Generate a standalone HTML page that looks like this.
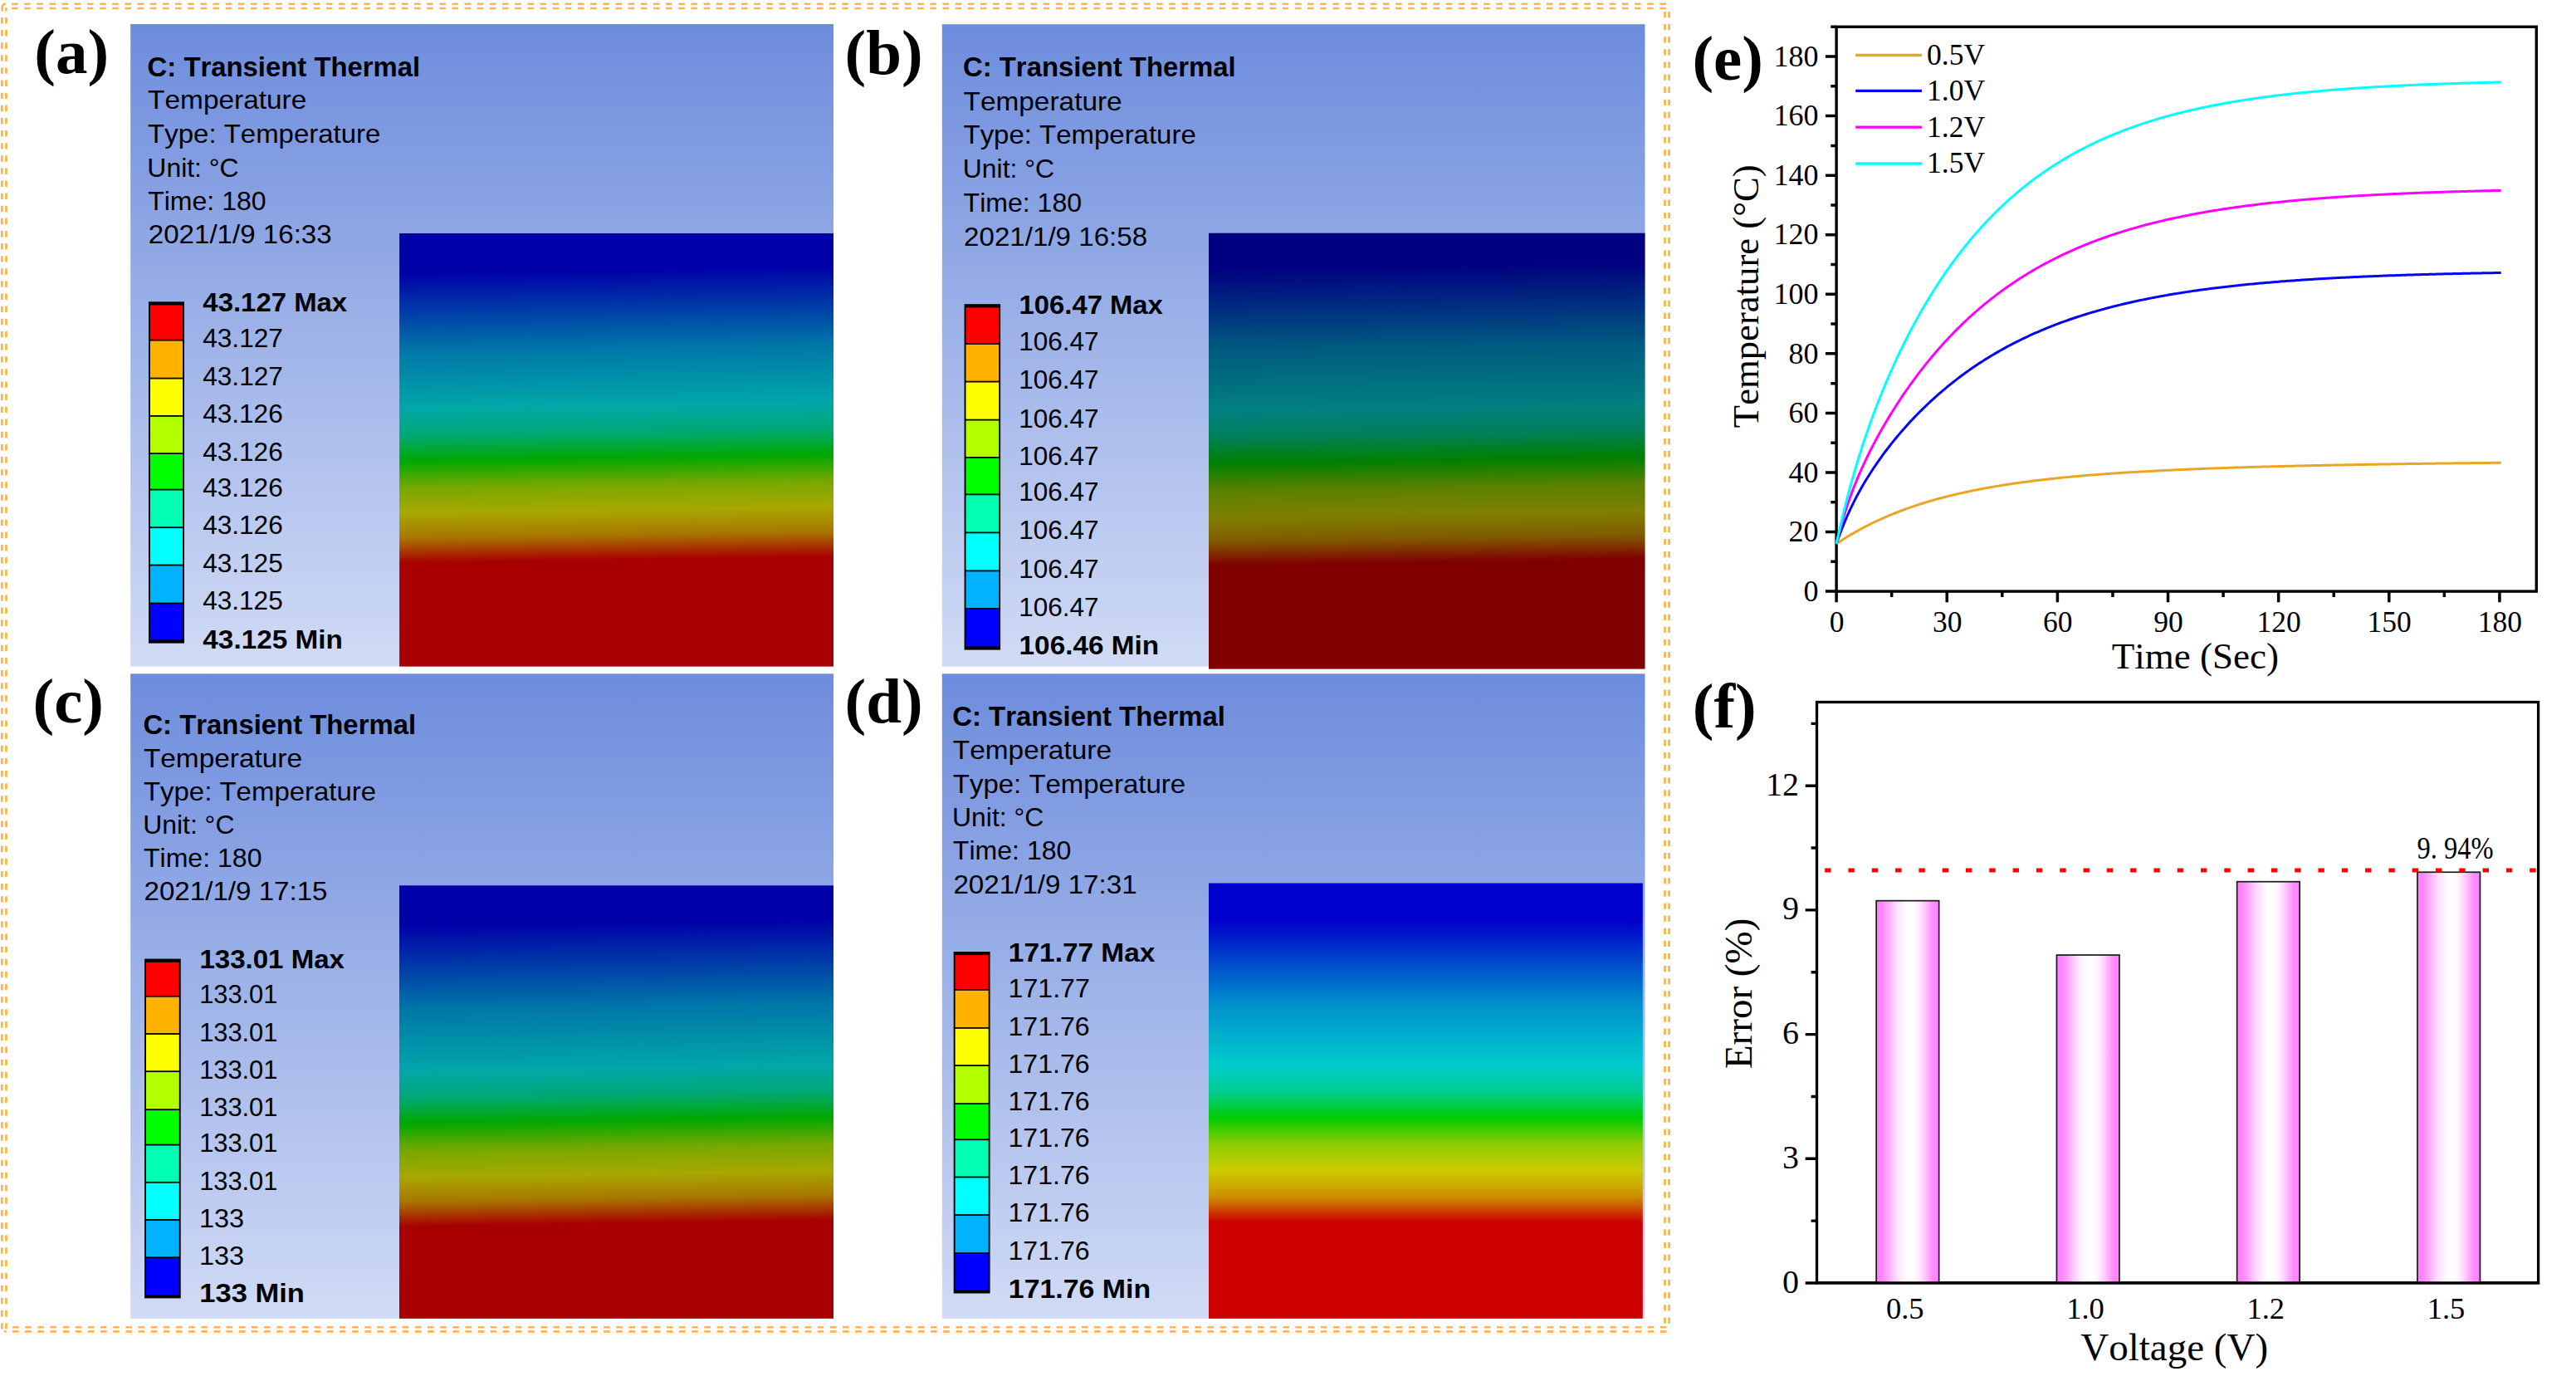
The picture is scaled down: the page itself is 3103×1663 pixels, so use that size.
<!DOCTYPE html><html><head><meta charset="utf-8"><title>figure</title>
<style>html,body{margin:0;padding:0;background:#fff}body{width:3103px;height:1663px;overflow:hidden;font-family:"Liberation Sans",sans-serif}svg{display:block}text{fill:#000;font-kerning:none}</style></head><body>
<svg width="3103" height="1663" viewBox="0 0 3103 1663">
<defs>
<linearGradient id="bg" x1="0" y1="0" x2="0" y2="1"><stop offset="0" stop-color="#6d8cdc"/><stop offset="1" stop-color="#d1dbf5"/></linearGradient>
<linearGradient id="bar" x1="0" y1="0" x2="1" y2="0"><stop offset="0" stop-color="#ff80ff"/><stop offset="0.07" stop-color="#ff82ff"/><stop offset="0.18" stop-color="#ffa4ff"/><stop offset="0.26" stop-color="#ffc6ff"/><stop offset="0.34" stop-color="#ffe2ff"/><stop offset="0.42" stop-color="#fff3ff"/><stop offset="0.5" stop-color="#ffffff"/><stop offset="0.57" stop-color="#ffffff"/><stop offset="0.66" stop-color="#fff0ff"/><stop offset="0.74" stop-color="#ffd6ff"/><stop offset="0.82" stop-color="#ffb2ff"/><stop offset="0.9" stop-color="#ff8aff"/><stop offset="1" stop-color="#ff80ff"/></linearGradient>
<linearGradient id="cta" x1="0.5" y1="0" x2="0.515" y2="1"><stop offset="0.0000" stop-color="#0000a8"/><stop offset="0.0824" stop-color="#0000a8"/><stop offset="0.2627" stop-color="#0076a8"/><stop offset="0.3988" stop-color="#00a8a8"/><stop offset="0.4588" stop-color="#00a876"/><stop offset="0.5188" stop-color="#00a800"/><stop offset="0.5786" stop-color="#76a800"/><stop offset="0.6384" stop-color="#a8a800"/><stop offset="0.6959" stop-color="#a87600"/><stop offset="0.7535" stop-color="#a80000"/><stop offset="1.0000" stop-color="#a80000"/></linearGradient>
<linearGradient id="ctb" x1="0.5" y1="0" x2="0.515" y2="1"><stop offset="0.0000" stop-color="#000080"/><stop offset="0.0730" stop-color="#000080"/><stop offset="0.2592" stop-color="#005a80"/><stop offset="0.3997" stop-color="#008080"/><stop offset="0.4602" stop-color="#00805a"/><stop offset="0.5207" stop-color="#008000"/><stop offset="0.5826" stop-color="#5a8000"/><stop offset="0.6445" stop-color="#808000"/><stop offset="0.6998" stop-color="#805a00"/><stop offset="0.7550" stop-color="#800000"/><stop offset="1.0000" stop-color="#800000"/></linearGradient>
<linearGradient id="ctc" x1="0.5" y1="0" x2="0.515" y2="1"><stop offset="0.0000" stop-color="#0000a8"/><stop offset="0.0838" stop-color="#0000a8"/><stop offset="0.2776" stop-color="#0076a8"/><stop offset="0.4238" stop-color="#00a8a8"/><stop offset="0.4829" stop-color="#00a876"/><stop offset="0.5421" stop-color="#00a800"/><stop offset="0.6040" stop-color="#76a800"/><stop offset="0.6660" stop-color="#a8a800"/><stop offset="0.7229" stop-color="#a87600"/><stop offset="0.7799" stop-color="#a80000"/><stop offset="1.0000" stop-color="#a80000"/></linearGradient>
<linearGradient id="ctd" x1="0.5" y1="0" x2="0.5" y2="1"><stop offset="0.0000" stop-color="#0000cc"/><stop offset="0.0849" stop-color="#0000cc"/><stop offset="0.2757" stop-color="#008fcc"/><stop offset="0.4196" stop-color="#00cccc"/><stop offset="0.4797" stop-color="#00cc8f"/><stop offset="0.5398" stop-color="#00cc00"/><stop offset="0.5998" stop-color="#8fcc00"/><stop offset="0.6599" stop-color="#cccc00"/><stop offset="0.7195" stop-color="#cc8f00"/><stop offset="0.7791" stop-color="#cc0000"/><stop offset="1.0000" stop-color="#cc0000"/></linearGradient>
</defs>
<path d="M14 4.8h7.6M29.16 4.8h7.6M44.31 4.8h7.6M59.46 4.8h7.6M74.62 4.8h7.6M89.77 4.8h7.6M104.93 4.8h7.6M120.08 4.8h7.6M135.24 4.8h7.6M150.39 4.8h7.6M165.55 4.8h7.6M180.7 4.8h7.6M195.86 4.8h7.6M211.01 4.8h7.6M226.17 4.8h7.6M241.32 4.8h7.6M256.48 4.8h7.6M271.63 4.8h7.6M286.79 4.8h7.6M301.94 4.8h7.6M317.1 4.8h7.6M332.25 4.8h7.6M347.41 4.8h7.6M362.56 4.8h7.6M377.72 4.8h7.6M392.88 4.8h7.6M408.03 4.8h7.6M423.19 4.8h7.6M438.34 4.8h7.6M453.5 4.8h7.6M468.65 4.8h7.6M483.81 4.8h7.6M498.96 4.8h7.6M514.12 4.8h7.6M529.27 4.8h7.6M544.42 4.8h7.6M559.58 4.8h7.6M574.74 4.8h7.6M589.89 4.8h7.6M605.04 4.8h7.6M620.2 4.8h7.6M635.36 4.8h7.6M650.51 4.8h7.6M665.66 4.8h7.6M680.82 4.8h7.6M695.98 4.8h7.6M711.13 4.8h7.6M726.28 4.8h7.6M741.44 4.8h7.6M756.59 4.8h7.6M771.75 4.8h7.6M786.9 4.8h7.6M802.06 4.8h7.6M817.21 4.8h7.6M832.37 4.8h7.6M847.52 4.8h7.6M862.68 4.8h7.6M877.83 4.8h7.6M892.99 4.8h7.6M908.14 4.8h7.6M923.3 4.8h7.6M938.45 4.8h7.6M953.61 4.8h7.6M968.76 4.8h7.6M983.92 4.8h7.6M999.07 4.8h7.6M1014.23 4.8h7.6M1029.38 4.8h7.6M1044.54 4.8h7.6M1059.69 4.8h7.6M1074.85 4.8h7.6M1090 4.8h7.6M1105.16 4.8h7.6M1120.32 4.8h7.6M1135.47 4.8h7.6M1150.62 4.8h7.6M1165.78 4.8h7.6M1180.93 4.8h7.6M1196.09 4.8h7.6M1211.24 4.8h7.6M1226.4 4.8h7.6M1241.55 4.8h7.6M1256.71 4.8h7.6M1271.87 4.8h7.6M1287.02 4.8h7.6M1302.17 4.8h7.6M1317.33 4.8h7.6M1332.48 4.8h7.6M1347.64 4.8h7.6M1362.79 4.8h7.6M1377.95 4.8h7.6M1393.11 4.8h7.6M1408.26 4.8h7.6M1423.41 4.8h7.6M1438.57 4.8h7.6M1453.72 4.8h7.6M1468.88 4.8h7.6M1484.03 4.8h7.6M1499.19 4.8h7.6M1514.35 4.8h7.6M1529.5 4.8h7.6M1544.65 4.8h7.6M1559.81 4.8h7.6M1574.96 4.8h7.6M1590.12 4.8h7.6M1605.27 4.8h7.6M1620.43 4.8h7.6M1635.59 4.8h7.6M1650.74 4.8h7.6M1665.89 4.8h7.6M1681.05 4.8h7.6M1696.2 4.8h7.6M1711.36 4.8h7.6M1726.51 4.8h7.6M1741.67 4.8h7.6M1756.82 4.8h7.6M1771.98 4.8h7.6M1787.13 4.8h7.6M1802.29 4.8h7.6M1817.44 4.8h7.6M1832.6 4.8h7.6M1847.75 4.8h7.6M1862.91 4.8h7.6M1878.06 4.8h7.6M1893.22 4.8h7.6M1908.38 4.8h7.6M1923.53 4.8h7.6M1938.68 4.8h7.6M1953.84 4.8h7.6M1968.99 4.8h7.6M1984.15 4.8h7.6M1999.3 4.8h7.6" stroke="#ffb54e" stroke-width="2.6" fill="none"/>
<path d="M14 10.05h7.6M29.16 10.05h7.6M44.31 10.05h7.6M59.46 10.05h7.6M74.62 10.05h7.6M89.77 10.05h7.6M104.93 10.05h7.6M120.08 10.05h7.6M135.24 10.05h7.6M150.39 10.05h7.6M165.55 10.05h7.6M180.7 10.05h7.6M195.86 10.05h7.6M211.01 10.05h7.6M226.17 10.05h7.6M241.32 10.05h7.6M256.48 10.05h7.6M271.63 10.05h7.6M286.79 10.05h7.6M301.94 10.05h7.6M317.1 10.05h7.6M332.25 10.05h7.6M347.41 10.05h7.6M362.56 10.05h7.6M377.72 10.05h7.6M392.88 10.05h7.6M408.03 10.05h7.6M423.19 10.05h7.6M438.34 10.05h7.6M453.5 10.05h7.6M468.65 10.05h7.6M483.81 10.05h7.6M498.96 10.05h7.6M514.12 10.05h7.6M529.27 10.05h7.6M544.42 10.05h7.6M559.58 10.05h7.6M574.74 10.05h7.6M589.89 10.05h7.6M605.04 10.05h7.6M620.2 10.05h7.6M635.36 10.05h7.6M650.51 10.05h7.6M665.66 10.05h7.6M680.82 10.05h7.6M695.98 10.05h7.6M711.13 10.05h7.6M726.28 10.05h7.6M741.44 10.05h7.6M756.59 10.05h7.6M771.75 10.05h7.6M786.9 10.05h7.6M802.06 10.05h7.6M817.21 10.05h7.6M832.37 10.05h7.6M847.52 10.05h7.6M862.68 10.05h7.6M877.83 10.05h7.6M892.99 10.05h7.6M908.14 10.05h7.6M923.3 10.05h7.6M938.45 10.05h7.6M953.61 10.05h7.6M968.76 10.05h7.6M983.92 10.05h7.6M999.07 10.05h7.6M1014.23 10.05h7.6M1029.38 10.05h7.6M1044.54 10.05h7.6M1059.69 10.05h7.6M1074.85 10.05h7.6M1090 10.05h7.6M1105.16 10.05h7.6M1120.32 10.05h7.6M1135.47 10.05h7.6M1150.62 10.05h7.6M1165.78 10.05h7.6M1180.93 10.05h7.6M1196.09 10.05h7.6M1211.24 10.05h7.6M1226.4 10.05h7.6M1241.55 10.05h7.6M1256.71 10.05h7.6M1271.87 10.05h7.6M1287.02 10.05h7.6M1302.17 10.05h7.6M1317.33 10.05h7.6M1332.48 10.05h7.6M1347.64 10.05h7.6M1362.79 10.05h7.6M1377.95 10.05h7.6M1393.11 10.05h7.6M1408.26 10.05h7.6M1423.41 10.05h7.6M1438.57 10.05h7.6M1453.72 10.05h7.6M1468.88 10.05h7.6M1484.03 10.05h7.6M1499.19 10.05h7.6M1514.35 10.05h7.6M1529.5 10.05h7.6M1544.65 10.05h7.6M1559.81 10.05h7.6M1574.96 10.05h7.6M1590.12 10.05h7.6M1605.27 10.05h7.6M1620.43 10.05h7.6M1635.59 10.05h7.6M1650.74 10.05h7.6M1665.89 10.05h7.6M1681.05 10.05h7.6M1696.2 10.05h7.6M1711.36 10.05h7.6M1726.51 10.05h7.6M1741.67 10.05h7.6M1756.82 10.05h7.6M1771.98 10.05h7.6M1787.13 10.05h7.6M1802.29 10.05h7.6M1817.44 10.05h7.6M1832.6 10.05h7.6M1847.75 10.05h7.6M1862.91 10.05h7.6M1878.06 10.05h7.6M1893.22 10.05h7.6M1908.38 10.05h7.6M1923.53 10.05h7.6M1938.68 10.05h7.6M1953.84 10.05h7.6M1968.99 10.05h7.6M1984.15 10.05h7.6M1999.3 10.05h7.6" stroke="#ffb54e" stroke-width="2.6" fill="none"/>
<path d="M15 1598.3h7.6M30.15 1598.3h7.6M45.3 1598.3h7.6M60.46 1598.3h7.6M75.61 1598.3h7.6M90.76 1598.3h7.6M105.91 1598.3h7.6M121.06 1598.3h7.6M136.22 1598.3h7.6M151.37 1598.3h7.6M166.52 1598.3h7.6M181.67 1598.3h7.6M196.82 1598.3h7.6M211.98 1598.3h7.6M227.13 1598.3h7.6M242.28 1598.3h7.6M257.43 1598.3h7.6M272.58 1598.3h7.6M287.74 1598.3h7.6M302.89 1598.3h7.6M318.04 1598.3h7.6M333.19 1598.3h7.6M348.34 1598.3h7.6M363.5 1598.3h7.6M378.65 1598.3h7.6M393.8 1598.3h7.6M408.95 1598.3h7.6M424.1 1598.3h7.6M439.26 1598.3h7.6M454.41 1598.3h7.6M469.56 1598.3h7.6M484.71 1598.3h7.6M499.86 1598.3h7.6M515.02 1598.3h7.6M530.17 1598.3h7.6M545.32 1598.3h7.6M560.47 1598.3h7.6M575.62 1598.3h7.6M590.78 1598.3h7.6M605.93 1598.3h7.6M621.08 1598.3h7.6M636.23 1598.3h7.6M651.38 1598.3h7.6M666.54 1598.3h7.6M681.69 1598.3h7.6M696.84 1598.3h7.6M711.99 1598.3h7.6M727.14 1598.3h7.6M742.3 1598.3h7.6M757.45 1598.3h7.6M772.6 1598.3h7.6M787.75 1598.3h7.6M802.9 1598.3h7.6M818.06 1598.3h7.6M833.21 1598.3h7.6M848.36 1598.3h7.6M863.51 1598.3h7.6M878.66 1598.3h7.6M893.82 1598.3h7.6M908.97 1598.3h7.6M924.12 1598.3h7.6M939.27 1598.3h7.6M954.42 1598.3h7.6M969.58 1598.3h7.6M984.73 1598.3h7.6M999.88 1598.3h7.6M1015.03 1598.3h7.6M1030.18 1598.3h7.6M1045.34 1598.3h7.6M1060.49 1598.3h7.6M1075.64 1598.3h7.6M1090.79 1598.3h7.6M1105.94 1598.3h7.6M1121.1 1598.3h7.6M1136.25 1598.3h7.6M1151.4 1598.3h7.6M1166.55 1598.3h7.6M1181.7 1598.3h7.6M1196.86 1598.3h7.6M1212.01 1598.3h7.6M1227.16 1598.3h7.6M1242.31 1598.3h7.6M1257.46 1598.3h7.6M1272.62 1598.3h7.6M1287.77 1598.3h7.6M1302.92 1598.3h7.6M1318.07 1598.3h7.6M1333.22 1598.3h7.6M1348.38 1598.3h7.6M1363.53 1598.3h7.6M1378.68 1598.3h7.6M1393.83 1598.3h7.6M1408.98 1598.3h7.6M1424.14 1598.3h7.6M1439.29 1598.3h7.6M1454.44 1598.3h7.6M1469.59 1598.3h7.6M1484.74 1598.3h7.6M1499.9 1598.3h7.6M1515.05 1598.3h7.6M1530.2 1598.3h7.6M1545.35 1598.3h7.6M1560.5 1598.3h7.6M1575.66 1598.3h7.6M1590.81 1598.3h7.6M1605.96 1598.3h7.6M1621.11 1598.3h7.6M1636.26 1598.3h7.6M1651.42 1598.3h7.6M1666.57 1598.3h7.6M1681.72 1598.3h7.6M1696.87 1598.3h7.6M1712.02 1598.3h7.6M1727.18 1598.3h7.6M1742.33 1598.3h7.6M1757.48 1598.3h7.6M1772.63 1598.3h7.6M1787.78 1598.3h7.6M1802.94 1598.3h7.6M1818.09 1598.3h7.6M1833.24 1598.3h7.6M1848.39 1598.3h7.6M1863.54 1598.3h7.6M1878.7 1598.3h7.6M1893.85 1598.3h7.6M1909 1598.3h7.6M1924.15 1598.3h7.6M1939.3 1598.3h7.6M1954.46 1598.3h7.6M1969.61 1598.3h7.6M1984.76 1598.3h7.6M1999.91 1598.3h7.6" stroke="#ffb54e" stroke-width="2.6" fill="none"/>
<path d="M15 1603.4h7.6M30.15 1603.4h7.6M45.3 1603.4h7.6M60.46 1603.4h7.6M75.61 1603.4h7.6M90.76 1603.4h7.6M105.91 1603.4h7.6M121.06 1603.4h7.6M136.22 1603.4h7.6M151.37 1603.4h7.6M166.52 1603.4h7.6M181.67 1603.4h7.6M196.82 1603.4h7.6M211.98 1603.4h7.6M227.13 1603.4h7.6M242.28 1603.4h7.6M257.43 1603.4h7.6M272.58 1603.4h7.6M287.74 1603.4h7.6M302.89 1603.4h7.6M318.04 1603.4h7.6M333.19 1603.4h7.6M348.34 1603.4h7.6M363.5 1603.4h7.6M378.65 1603.4h7.6M393.8 1603.4h7.6M408.95 1603.4h7.6M424.1 1603.4h7.6M439.26 1603.4h7.6M454.41 1603.4h7.6M469.56 1603.4h7.6M484.71 1603.4h7.6M499.86 1603.4h7.6M515.02 1603.4h7.6M530.17 1603.4h7.6M545.32 1603.4h7.6M560.47 1603.4h7.6M575.62 1603.4h7.6M590.78 1603.4h7.6M605.93 1603.4h7.6M621.08 1603.4h7.6M636.23 1603.4h7.6M651.38 1603.4h7.6M666.54 1603.4h7.6M681.69 1603.4h7.6M696.84 1603.4h7.6M711.99 1603.4h7.6M727.14 1603.4h7.6M742.3 1603.4h7.6M757.45 1603.4h7.6M772.6 1603.4h7.6M787.75 1603.4h7.6M802.9 1603.4h7.6M818.06 1603.4h7.6M833.21 1603.4h7.6M848.36 1603.4h7.6M863.51 1603.4h7.6M878.66 1603.4h7.6M893.82 1603.4h7.6M908.97 1603.4h7.6M924.12 1603.4h7.6M939.27 1603.4h7.6M954.42 1603.4h7.6M969.58 1603.4h7.6M984.73 1603.4h7.6M999.88 1603.4h7.6M1015.03 1603.4h7.6M1030.18 1603.4h7.6M1045.34 1603.4h7.6M1060.49 1603.4h7.6M1075.64 1603.4h7.6M1090.79 1603.4h7.6M1105.94 1603.4h7.6M1121.1 1603.4h7.6M1136.25 1603.4h7.6M1151.4 1603.4h7.6M1166.55 1603.4h7.6M1181.7 1603.4h7.6M1196.86 1603.4h7.6M1212.01 1603.4h7.6M1227.16 1603.4h7.6M1242.31 1603.4h7.6M1257.46 1603.4h7.6M1272.62 1603.4h7.6M1287.77 1603.4h7.6M1302.92 1603.4h7.6M1318.07 1603.4h7.6M1333.22 1603.4h7.6M1348.38 1603.4h7.6M1363.53 1603.4h7.6M1378.68 1603.4h7.6M1393.83 1603.4h7.6M1408.98 1603.4h7.6M1424.14 1603.4h7.6M1439.29 1603.4h7.6M1454.44 1603.4h7.6M1469.59 1603.4h7.6M1484.74 1603.4h7.6M1499.9 1603.4h7.6M1515.05 1603.4h7.6M1530.2 1603.4h7.6M1545.35 1603.4h7.6M1560.5 1603.4h7.6M1575.66 1603.4h7.6M1590.81 1603.4h7.6M1605.96 1603.4h7.6M1621.11 1603.4h7.6M1636.26 1603.4h7.6M1651.42 1603.4h7.6M1666.57 1603.4h7.6M1681.72 1603.4h7.6M1696.87 1603.4h7.6M1712.02 1603.4h7.6M1727.18 1603.4h7.6M1742.33 1603.4h7.6M1757.48 1603.4h7.6M1772.63 1603.4h7.6M1787.78 1603.4h7.6M1802.94 1603.4h7.6M1818.09 1603.4h7.6M1833.24 1603.4h7.6M1848.39 1603.4h7.6M1863.54 1603.4h7.6M1878.7 1603.4h7.6M1893.85 1603.4h7.6M1909 1603.4h7.6M1924.15 1603.4h7.6M1939.3 1603.4h7.6M1954.46 1603.4h7.6M1969.61 1603.4h7.6M1984.76 1603.4h7.6M1999.91 1603.4h7.6" stroke="#ffb54e" stroke-width="2.6" fill="none"/>
<path d="M2.4 21v7.4M2.4 36.12v7.4M2.4 51.23v7.4M2.4 66.35v7.4M2.4 81.47v7.4M2.4 96.59v7.4M2.4 111.7v7.4M2.4 126.82v7.4M2.4 141.94v7.4M2.4 157.05v7.4M2.4 172.17v7.4M2.4 187.29v7.4M2.4 202.4v7.4M2.4 217.52v7.4M2.4 232.64v7.4M2.4 247.76v7.4M2.4 262.87v7.4M2.4 277.99v7.4M2.4 293.11v7.4M2.4 308.22v7.4M2.4 323.34v7.4M2.4 338.46v7.4M2.4 353.57v7.4M2.4 368.69v7.4M2.4 383.81v7.4M2.4 398.93v7.4M2.4 414.04v7.4M2.4 429.16v7.4M2.4 444.28v7.4M2.4 459.39v7.4M2.4 474.51v7.4M2.4 489.63v7.4M2.4 504.74v7.4M2.4 519.86v7.4M2.4 534.98v7.4M2.4 550.1v7.4M2.4 565.21v7.4M2.4 580.33v7.4M2.4 595.45v7.4M2.4 610.56v7.4M2.4 625.68v7.4M2.4 640.8v7.4M2.4 655.91v7.4M2.4 671.03v7.4M2.4 686.15v7.4M2.4 701.26v7.4M2.4 716.38v7.4M2.4 731.5v7.4M2.4 746.62v7.4M2.4 761.73v7.4M2.4 776.85v7.4M2.4 791.97v7.4M2.4 807.08v7.4M2.4 822.2v7.4M2.4 837.32v7.4M2.4 852.44v7.4M2.4 867.55v7.4M2.4 882.67v7.4M2.4 897.79v7.4M2.4 912.9v7.4M2.4 928.02v7.4M2.4 943.14v7.4M2.4 958.25v7.4M2.4 973.37v7.4M2.4 988.49v7.4M2.4 1003.61v7.4M2.4 1018.72v7.4M2.4 1033.84v7.4M2.4 1048.96v7.4M2.4 1064.07v7.4M2.4 1079.19v7.4M2.4 1094.31v7.4M2.4 1109.42v7.4M2.4 1124.54v7.4M2.4 1139.66v7.4M2.4 1154.78v7.4M2.4 1169.89v7.4M2.4 1185.01v7.4M2.4 1200.13v7.4M2.4 1215.24v7.4M2.4 1230.36v7.4M2.4 1245.48v7.4M2.4 1260.59v7.4M2.4 1275.71v7.4M2.4 1290.83v7.4M2.4 1305.95v7.4M2.4 1321.06v7.4M2.4 1336.18v7.4M2.4 1351.3v7.4M2.4 1366.41v7.4M2.4 1381.53v7.4M2.4 1396.65v7.4M2.4 1411.76v7.4M2.4 1426.88v7.4M2.4 1442v7.4M2.4 1457.12v7.4M2.4 1472.23v7.4M2.4 1487.35v7.4M2.4 1502.47v7.4M2.4 1517.58v7.4M2.4 1532.7v7.4M2.4 1547.82v7.4M2.4 1562.93v7.4M2.4 1578.05v7.4M2.4 1593.17v7.4" stroke="#ffb54e" stroke-width="2.8" fill="none"/>
<path d="M7.45 21v7.4M7.45 36.12v7.4M7.45 51.23v7.4M7.45 66.35v7.4M7.45 81.47v7.4M7.45 96.59v7.4M7.45 111.7v7.4M7.45 126.82v7.4M7.45 141.94v7.4M7.45 157.05v7.4M7.45 172.17v7.4M7.45 187.29v7.4M7.45 202.4v7.4M7.45 217.52v7.4M7.45 232.64v7.4M7.45 247.76v7.4M7.45 262.87v7.4M7.45 277.99v7.4M7.45 293.11v7.4M7.45 308.22v7.4M7.45 323.34v7.4M7.45 338.46v7.4M7.45 353.57v7.4M7.45 368.69v7.4M7.45 383.81v7.4M7.45 398.93v7.4M7.45 414.04v7.4M7.45 429.16v7.4M7.45 444.28v7.4M7.45 459.39v7.4M7.45 474.51v7.4M7.45 489.63v7.4M7.45 504.74v7.4M7.45 519.86v7.4M7.45 534.98v7.4M7.45 550.1v7.4M7.45 565.21v7.4M7.45 580.33v7.4M7.45 595.45v7.4M7.45 610.56v7.4M7.45 625.68v7.4M7.45 640.8v7.4M7.45 655.91v7.4M7.45 671.03v7.4M7.45 686.15v7.4M7.45 701.26v7.4M7.45 716.38v7.4M7.45 731.5v7.4M7.45 746.62v7.4M7.45 761.73v7.4M7.45 776.85v7.4M7.45 791.97v7.4M7.45 807.08v7.4M7.45 822.2v7.4M7.45 837.32v7.4M7.45 852.44v7.4M7.45 867.55v7.4M7.45 882.67v7.4M7.45 897.79v7.4M7.45 912.9v7.4M7.45 928.02v7.4M7.45 943.14v7.4M7.45 958.25v7.4M7.45 973.37v7.4M7.45 988.49v7.4M7.45 1003.61v7.4M7.45 1018.72v7.4M7.45 1033.84v7.4M7.45 1048.96v7.4M7.45 1064.07v7.4M7.45 1079.19v7.4M7.45 1094.31v7.4M7.45 1109.42v7.4M7.45 1124.54v7.4M7.45 1139.66v7.4M7.45 1154.78v7.4M7.45 1169.89v7.4M7.45 1185.01v7.4M7.45 1200.13v7.4M7.45 1215.24v7.4M7.45 1230.36v7.4M7.45 1245.48v7.4M7.45 1260.59v7.4M7.45 1275.71v7.4M7.45 1290.83v7.4M7.45 1305.95v7.4M7.45 1321.06v7.4M7.45 1336.18v7.4M7.45 1351.3v7.4M7.45 1366.41v7.4M7.45 1381.53v7.4M7.45 1396.65v7.4M7.45 1411.76v7.4M7.45 1426.88v7.4M7.45 1442v7.4M7.45 1457.12v7.4M7.45 1472.23v7.4M7.45 1487.35v7.4M7.45 1502.47v7.4M7.45 1517.58v7.4M7.45 1532.7v7.4M7.45 1547.82v7.4M7.45 1562.93v7.4M7.45 1578.05v7.4M7.45 1593.17v7.4" stroke="#ffb54e" stroke-width="2.8" fill="none"/>
<rect x="5" y="1602.1" width="2.8" height="2.6" fill="#ffb54e"/>
<path d="M2005.5 13.9v7.3M2005.5 29.02v7.3M2005.5 44.14v7.3M2005.5 59.26v7.3M2005.5 74.38v7.3M2005.5 89.5v7.3M2005.5 104.62v7.3M2005.5 119.74v7.3M2005.5 134.86v7.3M2005.5 149.98v7.3M2005.5 165.1v7.3M2005.5 180.22v7.3M2005.5 195.34v7.3M2005.5 210.46v7.3M2005.5 225.58v7.3M2005.5 240.7v7.3M2005.5 255.82v7.3M2005.5 270.94v7.3M2005.5 286.06v7.3M2005.5 301.18v7.3M2005.5 316.3v7.3M2005.5 331.42v7.3M2005.5 346.54v7.3M2005.5 361.66v7.3M2005.5 376.78v7.3M2005.5 391.9v7.3M2005.5 407.02v7.3M2005.5 422.14v7.3M2005.5 437.26v7.3M2005.5 452.38v7.3M2005.5 467.5v7.3M2005.5 482.62v7.3M2005.5 497.74v7.3M2005.5 512.86v7.3M2005.5 527.98v7.3M2005.5 543.1v7.3M2005.5 558.22v7.3M2005.5 573.34v7.3M2005.5 588.46v7.3M2005.5 603.58v7.3M2005.5 618.7v7.3M2005.5 633.82v7.3M2005.5 648.94v7.3M2005.5 664.06v7.3M2005.5 679.18v7.3M2005.5 694.3v7.3M2005.5 709.42v7.3M2005.5 724.54v7.3M2005.5 739.66v7.3M2005.5 754.78v7.3M2005.5 769.9v7.3M2005.5 785.02v7.3M2005.5 800.14v7.3M2005.5 815.26v7.3M2005.5 830.38v7.3M2005.5 845.5v7.3M2005.5 860.62v7.3M2005.5 875.74v7.3M2005.5 890.86v7.3M2005.5 905.98v7.3M2005.5 921.1v7.3M2005.5 936.22v7.3M2005.5 951.34v7.3M2005.5 966.46v7.3M2005.5 981.58v7.3M2005.5 996.7v7.3M2005.5 1011.82v7.3M2005.5 1026.94v7.3M2005.5 1042.06v7.3M2005.5 1057.18v7.3M2005.5 1072.3v7.3M2005.5 1087.42v7.3M2005.5 1102.54v7.3M2005.5 1117.66v7.3M2005.5 1132.78v7.3M2005.5 1147.9v7.3M2005.5 1163.02v7.3M2005.5 1178.14v7.3M2005.5 1193.26v7.3M2005.5 1208.38v7.3M2005.5 1223.5v7.3M2005.5 1238.62v7.3M2005.5 1253.74v7.3M2005.5 1268.86v7.3M2005.5 1283.98v7.3M2005.5 1299.1v7.3M2005.5 1314.22v7.3M2005.5 1329.34v7.3M2005.5 1344.46v7.3M2005.5 1359.58v7.3M2005.5 1374.7v7.3M2005.5 1389.82v7.3M2005.5 1404.94v7.3M2005.5 1420.06v7.3M2005.5 1435.18v7.3M2005.5 1450.3v7.3M2005.5 1465.42v7.3M2005.5 1480.54v7.3M2005.5 1495.66v7.3M2005.5 1510.78v7.3M2005.5 1525.9v7.3M2005.5 1541.02v7.3M2005.5 1556.14v7.3M2005.5 1571.26v7.3M2005.5 1586.38v7.3" stroke="#ffb54e" stroke-width="2.8" fill="none"/>
<path d="M2010.6 13.9v7.3M2010.6 29.02v7.3M2010.6 44.14v7.3M2010.6 59.26v7.3M2010.6 74.38v7.3M2010.6 89.5v7.3M2010.6 104.62v7.3M2010.6 119.74v7.3M2010.6 134.86v7.3M2010.6 149.98v7.3M2010.6 165.1v7.3M2010.6 180.22v7.3M2010.6 195.34v7.3M2010.6 210.46v7.3M2010.6 225.58v7.3M2010.6 240.7v7.3M2010.6 255.82v7.3M2010.6 270.94v7.3M2010.6 286.06v7.3M2010.6 301.18v7.3M2010.6 316.3v7.3M2010.6 331.42v7.3M2010.6 346.54v7.3M2010.6 361.66v7.3M2010.6 376.78v7.3M2010.6 391.9v7.3M2010.6 407.02v7.3M2010.6 422.14v7.3M2010.6 437.26v7.3M2010.6 452.38v7.3M2010.6 467.5v7.3M2010.6 482.62v7.3M2010.6 497.74v7.3M2010.6 512.86v7.3M2010.6 527.98v7.3M2010.6 543.1v7.3M2010.6 558.22v7.3M2010.6 573.34v7.3M2010.6 588.46v7.3M2010.6 603.58v7.3M2010.6 618.7v7.3M2010.6 633.82v7.3M2010.6 648.94v7.3M2010.6 664.06v7.3M2010.6 679.18v7.3M2010.6 694.3v7.3M2010.6 709.42v7.3M2010.6 724.54v7.3M2010.6 739.66v7.3M2010.6 754.78v7.3M2010.6 769.9v7.3M2010.6 785.02v7.3M2010.6 800.14v7.3M2010.6 815.26v7.3M2010.6 830.38v7.3M2010.6 845.5v7.3M2010.6 860.62v7.3M2010.6 875.74v7.3M2010.6 890.86v7.3M2010.6 905.98v7.3M2010.6 921.1v7.3M2010.6 936.22v7.3M2010.6 951.34v7.3M2010.6 966.46v7.3M2010.6 981.58v7.3M2010.6 996.7v7.3M2010.6 1011.82v7.3M2010.6 1026.94v7.3M2010.6 1042.06v7.3M2010.6 1057.18v7.3M2010.6 1072.3v7.3M2010.6 1087.42v7.3M2010.6 1102.54v7.3M2010.6 1117.66v7.3M2010.6 1132.78v7.3M2010.6 1147.9v7.3M2010.6 1163.02v7.3M2010.6 1178.14v7.3M2010.6 1193.26v7.3M2010.6 1208.38v7.3M2010.6 1223.5v7.3M2010.6 1238.62v7.3M2010.6 1253.74v7.3M2010.6 1268.86v7.3M2010.6 1283.98v7.3M2010.6 1299.1v7.3M2010.6 1314.22v7.3M2010.6 1329.34v7.3M2010.6 1344.46v7.3M2010.6 1359.58v7.3M2010.6 1374.7v7.3M2010.6 1389.82v7.3M2010.6 1404.94v7.3M2010.6 1420.06v7.3M2010.6 1435.18v7.3M2010.6 1450.3v7.3M2010.6 1465.42v7.3M2010.6 1480.54v7.3M2010.6 1495.66v7.3M2010.6 1510.78v7.3M2010.6 1525.9v7.3M2010.6 1541.02v7.3M2010.6 1556.14v7.3M2010.6 1571.26v7.3M2010.6 1586.38v7.3" stroke="#ffb54e" stroke-width="2.8" fill="none"/>
<path d="M2.6 13.5 V9 Q2.6 4.8 7 4.8 M7.3 13.5 V11 Q7.3 10 8.5 10" stroke="#ffb54e" stroke-width="2.6" fill="none"/>
<rect x="157.2" y="29" width="846.8" height="773.5" fill="url(#bg)"/>
<rect x="481.1" y="281" width="522.9" height="521.6" fill="url(#cta)"/>
<text x="177.59" y="91.5" font-family="Liberation Sans" font-size="33" font-weight="bold" textLength="328.68" lengthAdjust="spacingAndGlyphs">C: Transient Thermal</text>
<text x="178.12" y="131" font-family="Liberation Sans" font-size="31.5" textLength="191.16" lengthAdjust="spacingAndGlyphs">Temperature</text>
<text x="178.13" y="172.3" font-family="Liberation Sans" font-size="31.5" textLength="280.2" lengthAdjust="spacingAndGlyphs">Type: Temperature</text>
<text x="177.35" y="212.5" font-family="Liberation Sans" font-size="31.5" textLength="110.3" lengthAdjust="spacingAndGlyphs">Unit: °C</text>
<text x="178.15" y="252.6" font-family="Liberation Sans" font-size="31.5" textLength="142.52" lengthAdjust="spacingAndGlyphs">Time: 180</text>
<text x="178.74" y="293.2" font-family="Liberation Sans" font-size="31.5" textLength="220.97" lengthAdjust="spacingAndGlyphs">2021/1/9 16:33</text>
<rect x="179" y="363.3" width="43" height="411.3" fill="#000"/>
<rect x="180.9" y="367.5" width="39.2" height="41.3" fill="#ff0000"/>
<rect x="180.9" y="410.6" width="39.2" height="44.1" fill="#ffb200"/>
<rect x="180.9" y="456.5" width="39.2" height="43.5" fill="#ffff00"/>
<rect x="180.9" y="501.8" width="39.2" height="43.4" fill="#b2ff00"/>
<rect x="180.9" y="547" width="39.2" height="41.7" fill="#00ff00"/>
<rect x="180.9" y="590.5" width="39.2" height="43.8" fill="#00ffb2"/>
<rect x="180.9" y="636.1" width="39.2" height="43.5" fill="#00ffff"/>
<rect x="180.9" y="681.4" width="39.2" height="44.2" fill="#00b2ff"/>
<rect x="180.9" y="727.4" width="39.2" height="43" fill="#0000ff"/>
<text x="244.35" y="375.3" font-family="Liberation Sans" font-size="32" font-weight="bold" textLength="173.82" lengthAdjust="spacingAndGlyphs">43.127 Max</text>
<text x="244.16" y="418" font-family="Liberation Sans" font-size="31.5" textLength="96.77" lengthAdjust="spacingAndGlyphs">43.127</text>
<text x="244.16" y="464" font-family="Liberation Sans" font-size="31.5" textLength="96.77" lengthAdjust="spacingAndGlyphs">43.127</text>
<text x="244.16" y="509.2" font-family="Liberation Sans" font-size="31.5" textLength="96.56" lengthAdjust="spacingAndGlyphs">43.126</text>
<text x="244.16" y="554.5" font-family="Liberation Sans" font-size="31.5" textLength="96.56" lengthAdjust="spacingAndGlyphs">43.126</text>
<text x="244.16" y="597.9" font-family="Liberation Sans" font-size="31.5" textLength="96.56" lengthAdjust="spacingAndGlyphs">43.126</text>
<text x="244.16" y="643.2" font-family="Liberation Sans" font-size="31.5" textLength="96.56" lengthAdjust="spacingAndGlyphs">43.126</text>
<text x="244.16" y="689.2" font-family="Liberation Sans" font-size="31.5" textLength="96.56" lengthAdjust="spacingAndGlyphs">43.125</text>
<text x="244.16" y="734.4" font-family="Liberation Sans" font-size="31.5" textLength="96.56" lengthAdjust="spacingAndGlyphs">43.125</text>
<text x="244.35" y="780.8" font-family="Liberation Sans" font-size="32" font-weight="bold" textLength="168.4" lengthAdjust="spacingAndGlyphs">43.125 Min</text>
<rect x="1134.8" y="29.2" width="846.7" height="773.5" fill="url(#bg)"/>
<rect x="1456" y="280.7" width="525.5" height="524.9" fill="url(#ctb)"/>
<text x="1159.99" y="91.5" font-family="Liberation Sans" font-size="33" font-weight="bold" textLength="328.68" lengthAdjust="spacingAndGlyphs">C: Transient Thermal</text>
<text x="1160.52" y="132.6" font-family="Liberation Sans" font-size="31.5" textLength="191.16" lengthAdjust="spacingAndGlyphs">Temperature</text>
<text x="1160.53" y="173.3" font-family="Liberation Sans" font-size="31.5" textLength="280.2" lengthAdjust="spacingAndGlyphs">Type: Temperature</text>
<text x="1159.75" y="213.9" font-family="Liberation Sans" font-size="31.5" textLength="110.3" lengthAdjust="spacingAndGlyphs">Unit: °C</text>
<text x="1160.55" y="255.3" font-family="Liberation Sans" font-size="31.5" textLength="142.52" lengthAdjust="spacingAndGlyphs">Time: 180</text>
<text x="1161.14" y="296.4" font-family="Liberation Sans" font-size="31.5" textLength="220.97" lengthAdjust="spacingAndGlyphs">2021/1/9 16:58</text>
<rect x="1161.6" y="366.2" width="43.5" height="416.4" fill="#000"/>
<rect x="1163.5" y="370.4" width="39.7" height="42.7" fill="#ff0000"/>
<rect x="1163.5" y="414.9" width="39.7" height="43.8" fill="#ffb200"/>
<rect x="1163.5" y="460.5" width="39.7" height="44.2" fill="#ffff00"/>
<rect x="1163.5" y="506.5" width="39.7" height="43.5" fill="#b2ff00"/>
<rect x="1163.5" y="551.8" width="39.7" height="42.7" fill="#00ff00"/>
<rect x="1163.5" y="596.3" width="39.7" height="44.2" fill="#00ffb2"/>
<rect x="1163.5" y="642.3" width="39.7" height="44.2" fill="#00ffff"/>
<rect x="1163.5" y="688.3" width="39.7" height="43.8" fill="#00b2ff"/>
<rect x="1163.5" y="733.9" width="39.7" height="44.5" fill="#0000ff"/>
<text x="1227.62" y="378.2" font-family="Liberation Sans" font-size="32" font-weight="bold" textLength="173.25" lengthAdjust="spacingAndGlyphs">106.47 Max</text>
<text x="1227.29" y="422.3" font-family="Liberation Sans" font-size="31.5" textLength="96.24" lengthAdjust="spacingAndGlyphs">106.47</text>
<text x="1227.29" y="468.3" font-family="Liberation Sans" font-size="31.5" textLength="96.24" lengthAdjust="spacingAndGlyphs">106.47</text>
<text x="1227.29" y="514.6" font-family="Liberation Sans" font-size="31.5" textLength="96.24" lengthAdjust="spacingAndGlyphs">106.47</text>
<text x="1227.29" y="559.9" font-family="Liberation Sans" font-size="31.5" textLength="96.24" lengthAdjust="spacingAndGlyphs">106.47</text>
<text x="1227.29" y="603.4" font-family="Liberation Sans" font-size="31.5" textLength="96.24" lengthAdjust="spacingAndGlyphs">106.47</text>
<text x="1227.29" y="649.3" font-family="Liberation Sans" font-size="31.5" textLength="96.24" lengthAdjust="spacingAndGlyphs">106.47</text>
<text x="1227.29" y="695.7" font-family="Liberation Sans" font-size="31.5" textLength="96.24" lengthAdjust="spacingAndGlyphs">106.47</text>
<text x="1227.29" y="741.7" font-family="Liberation Sans" font-size="31.5" textLength="96.24" lengthAdjust="spacingAndGlyphs">106.47</text>
<text x="1227.59" y="788" font-family="Liberation Sans" font-size="32" font-weight="bold" textLength="168.56" lengthAdjust="spacingAndGlyphs">106.46 Min</text>
<rect x="157.2" y="811.3" width="846.8" height="776.5" fill="url(#bg)"/>
<rect x="481" y="1066.3" width="523" height="521.5" fill="url(#ctc)"/>
<text x="172.39" y="883.6" font-family="Liberation Sans" font-size="33" font-weight="bold" textLength="328.68" lengthAdjust="spacingAndGlyphs">C: Transient Thermal</text>
<text x="172.92" y="923.5" font-family="Liberation Sans" font-size="31.5" textLength="191.16" lengthAdjust="spacingAndGlyphs">Temperature</text>
<text x="172.93" y="963.7" font-family="Liberation Sans" font-size="31.5" textLength="280.2" lengthAdjust="spacingAndGlyphs">Type: Temperature</text>
<text x="172.15" y="1003.8" font-family="Liberation Sans" font-size="31.5" textLength="110.3" lengthAdjust="spacingAndGlyphs">Unit: °C</text>
<text x="172.95" y="1044.2" font-family="Liberation Sans" font-size="31.5" textLength="142.52" lengthAdjust="spacingAndGlyphs">Time: 180</text>
<text x="173.54" y="1084.4" font-family="Liberation Sans" font-size="31.5" textLength="220.97" lengthAdjust="spacingAndGlyphs">2021/1/9 17:15</text>
<rect x="174.1" y="1154.6" width="43.6" height="408.8" fill="#000"/>
<rect x="176" y="1158.8" width="39.8" height="40.1" fill="#ff0000"/>
<rect x="176" y="1200.7" width="39.8" height="43.4" fill="#ffb200"/>
<rect x="176" y="1245.9" width="39.8" height="43.4" fill="#ffff00"/>
<rect x="176" y="1291.1" width="39.8" height="44.2" fill="#b2ff00"/>
<rect x="176" y="1337.1" width="39.8" height="40.6" fill="#00ff00"/>
<rect x="176" y="1379.5" width="39.8" height="43.4" fill="#00ffb2"/>
<rect x="176" y="1424.7" width="39.8" height="43.4" fill="#00ffff"/>
<rect x="176" y="1469.9" width="39.8" height="43.4" fill="#00b2ff"/>
<rect x="176" y="1515.1" width="39.8" height="44.1" fill="#0000ff"/>
<text x="240.41" y="1166" font-family="Liberation Sans" font-size="32" font-weight="bold" textLength="174.57" lengthAdjust="spacingAndGlyphs">133.01 Max</text>
<text x="240.14" y="1208.4" font-family="Liberation Sans" font-size="31.5" textLength="94.26" lengthAdjust="spacingAndGlyphs">133.01</text>
<text x="240.14" y="1253.6" font-family="Liberation Sans" font-size="31.5" textLength="94.26" lengthAdjust="spacingAndGlyphs">133.01</text>
<text x="240.14" y="1298.8" font-family="Liberation Sans" font-size="31.5" textLength="94.26" lengthAdjust="spacingAndGlyphs">133.01</text>
<text x="240.14" y="1344" font-family="Liberation Sans" font-size="31.5" textLength="94.26" lengthAdjust="spacingAndGlyphs">133.01</text>
<text x="240.14" y="1387.3" font-family="Liberation Sans" font-size="31.5" textLength="94.26" lengthAdjust="spacingAndGlyphs">133.01</text>
<text x="240.14" y="1432.5" font-family="Liberation Sans" font-size="31.5" textLength="94.26" lengthAdjust="spacingAndGlyphs">133.01</text>
<text x="240.01" y="1477.7" font-family="Liberation Sans" font-size="31.5" textLength="54.14" lengthAdjust="spacingAndGlyphs">133</text>
<text x="240.01" y="1522.9" font-family="Liberation Sans" font-size="31.5" textLength="54.14" lengthAdjust="spacingAndGlyphs">133</text>
<text x="240.32" y="1568.1" font-family="Liberation Sans" font-size="32" font-weight="bold" textLength="126.5" lengthAdjust="spacingAndGlyphs">133 Min</text>
<rect x="1134.8" y="811.3" width="846.7" height="776.5" fill="url(#bg)"/>
<rect x="1456" y="1063.5" width="522.8" height="524.3" fill="url(#ctd)"/>
<text x="1147.29" y="874" font-family="Liberation Sans" font-size="33" font-weight="bold" textLength="328.68" lengthAdjust="spacingAndGlyphs">C: Transient Thermal</text>
<text x="1147.82" y="914" font-family="Liberation Sans" font-size="31.5" textLength="191.16" lengthAdjust="spacingAndGlyphs">Temperature</text>
<text x="1147.83" y="954.6" font-family="Liberation Sans" font-size="31.5" textLength="280.2" lengthAdjust="spacingAndGlyphs">Type: Temperature</text>
<text x="1147.05" y="994.8" font-family="Liberation Sans" font-size="31.5" textLength="110.3" lengthAdjust="spacingAndGlyphs">Unit: °C</text>
<text x="1147.85" y="1035.4" font-family="Liberation Sans" font-size="31.5" textLength="142.52" lengthAdjust="spacingAndGlyphs">Time: 180</text>
<text x="1148.44" y="1076" font-family="Liberation Sans" font-size="31.5" textLength="221.19" lengthAdjust="spacingAndGlyphs">2021/1/9 17:31</text>
<rect x="1148.7" y="1146" width="43.9" height="411.5" fill="#000"/>
<rect x="1150.6" y="1150.1" width="40.1" height="40.9" fill="#ff0000"/>
<rect x="1150.6" y="1192.8" width="40.1" height="44.2" fill="#ffb200"/>
<rect x="1150.6" y="1238.8" width="40.1" height="43.4" fill="#ffff00"/>
<rect x="1150.6" y="1284" width="40.1" height="44.2" fill="#b2ff00"/>
<rect x="1150.6" y="1330" width="40.1" height="41.4" fill="#00ff00"/>
<rect x="1150.6" y="1373.2" width="40.1" height="43.4" fill="#00ffb2"/>
<rect x="1150.6" y="1418.4" width="40.1" height="43.8" fill="#00ffff"/>
<rect x="1150.6" y="1464" width="40.1" height="44.2" fill="#00b2ff"/>
<rect x="1150.6" y="1510" width="40.1" height="43.3" fill="#0000ff"/>
<text x="1214.88" y="1158.1" font-family="Liberation Sans" font-size="32" font-weight="bold" textLength="176.49" lengthAdjust="spacingAndGlyphs">171.77 Max</text>
<text x="1214.54" y="1201.4" font-family="Liberation Sans" font-size="31.5" textLength="98.33" lengthAdjust="spacingAndGlyphs">171.77</text>
<text x="1214.54" y="1247" font-family="Liberation Sans" font-size="31.5" textLength="98.1" lengthAdjust="spacingAndGlyphs">171.76</text>
<text x="1214.54" y="1292.2" font-family="Liberation Sans" font-size="31.5" textLength="98.1" lengthAdjust="spacingAndGlyphs">171.76</text>
<text x="1214.54" y="1337.4" font-family="Liberation Sans" font-size="31.5" textLength="98.1" lengthAdjust="spacingAndGlyphs">171.76</text>
<text x="1214.54" y="1380.6" font-family="Liberation Sans" font-size="31.5" textLength="98.1" lengthAdjust="spacingAndGlyphs">171.76</text>
<text x="1214.54" y="1425.8" font-family="Liberation Sans" font-size="31.5" textLength="98.1" lengthAdjust="spacingAndGlyphs">171.76</text>
<text x="1214.54" y="1471" font-family="Liberation Sans" font-size="31.5" textLength="98.1" lengthAdjust="spacingAndGlyphs">171.76</text>
<text x="1214.54" y="1517" font-family="Liberation Sans" font-size="31.5" textLength="98.1" lengthAdjust="spacingAndGlyphs">171.76</text>
<text x="1214.86" y="1563" font-family="Liberation Sans" font-size="32" font-weight="bold" textLength="171.22" lengthAdjust="spacingAndGlyphs">171.76 Min</text>
<text x="41.3" y="88.2" font-family="Liberation Serif" font-size="77" font-weight="bold">(a)</text>
<text x="1017.5" y="88.7" font-family="Liberation Serif" font-size="77" font-weight="bold">(b)</text>
<text x="39.5" y="869.6" font-family="Liberation Serif" font-size="77" font-weight="bold">(c)</text>
<text x="1017.5" y="869.5" font-family="Liberation Serif" font-size="77" font-weight="bold">(d)</text>
<text x="2038.4" y="95.8" font-family="Liberation Serif" font-size="77" font-weight="bold">(e)</text>
<text x="2038.8" y="876" font-family="Liberation Serif" font-size="77" font-weight="bold">(f)</text>
<rect x="2212.1" y="32.3" width="843.2" height="679.8" fill="none" stroke="#000" stroke-width="3.4"/>
<path d="M2212.1 712.1h-13.2M2212.1 676.32h-6.8M2212.1 640.54h-13.2M2212.1 604.76h-6.8M2212.1 568.98h-13.2M2212.1 533.2h-6.8M2212.1 497.42h-13.2M2212.1 461.64h-6.8M2212.1 425.86h-13.2M2212.1 390.08h-6.8M2212.1 354.3h-13.2M2212.1 318.52h-6.8M2212.1 282.74h-13.2M2212.1 246.96h-6.8M2212.1 211.18h-13.2M2212.1 175.4h-6.8M2212.1 139.62h-13.2M2212.1 103.84h-6.8M2212.1 68.06h-13.2M2212.1 32.28h-6.8M2212.1 712.1v13.2M2278.67 712.1v6.8M2345.24 712.1v13.2M2411.81 712.1v6.8M2478.38 712.1v13.2M2544.95 712.1v6.8M2611.52 712.1v13.2M2678.09 712.1v6.8M2744.66 712.1v13.2M2811.23 712.1v6.8M2877.8 712.1v13.2M2944.37 712.1v6.8M3010.94 712.1v13.2" stroke="#000" stroke-width="3.5" fill="none"/>
<text x="2190.6" y="723.8" font-family="Liberation Serif" font-size="36" text-anchor="end">0</text>
<text x="2190.6" y="652.24" font-family="Liberation Serif" font-size="36" text-anchor="end">20</text>
<text x="2190.6" y="580.68" font-family="Liberation Serif" font-size="36" text-anchor="end">40</text>
<text x="2190.6" y="509.12" font-family="Liberation Serif" font-size="36" text-anchor="end">60</text>
<text x="2190.6" y="437.56" font-family="Liberation Serif" font-size="36" text-anchor="end">80</text>
<text x="2190.6" y="366" font-family="Liberation Serif" font-size="36" text-anchor="end">100</text>
<text x="2190.6" y="294.44" font-family="Liberation Serif" font-size="36" text-anchor="end">120</text>
<text x="2190.6" y="222.88" font-family="Liberation Serif" font-size="36" text-anchor="end">140</text>
<text x="2190.6" y="151.32" font-family="Liberation Serif" font-size="36" text-anchor="end">160</text>
<text x="2190.6" y="79.76" font-family="Liberation Serif" font-size="36" text-anchor="end">180</text>
<text x="2212.5" y="761" font-family="Liberation Serif" font-size="35.5" text-anchor="middle">0</text>
<text x="2345.64" y="761" font-family="Liberation Serif" font-size="35.5" text-anchor="middle">30</text>
<text x="2478.78" y="761" font-family="Liberation Serif" font-size="35.5" text-anchor="middle">60</text>
<text x="2611.92" y="761" font-family="Liberation Serif" font-size="35.5" text-anchor="middle">90</text>
<text x="2745.06" y="761" font-family="Liberation Serif" font-size="35.5" text-anchor="middle">120</text>
<text x="2878.2" y="761" font-family="Liberation Serif" font-size="35.5" text-anchor="middle">150</text>
<text x="3011.34" y="761" font-family="Liberation Serif" font-size="35.5" text-anchor="middle">180</text>
<text x="2644.4" y="805.4" font-family="Liberation Serif" font-size="45" text-anchor="middle">Time (Sec)</text>
<text transform="translate(2117.5 356.7) rotate(-90)" font-family="Liberation Serif" font-size="44.7" text-anchor="middle">Temperature (°C)</text>
<path d="M2212.1 654.85 L2214.32 653.37 L2216.54 651.91 L2218.76 650.48 L2220.98 649.07 L2223.19 647.68 L2225.41 646.32 L2227.63 644.97 L2229.85 643.66 L2232.07 642.36 L2234.29 641.08 L2236.51 639.83 L2238.73 638.59 L2240.95 637.38 L2243.17 636.19 L2245.38 635.01 L2247.6 633.86 L2249.82 632.72 L2252.04 631.6 L2254.26 630.5 L2256.48 629.42 L2258.7 628.36 L2260.92 627.31 L2263.14 626.28 L2265.36 625.27 L2267.57 624.28 L2269.79 623.3 L2272.01 622.33 L2274.23 621.38 L2276.45 620.45 L2278.67 619.53 L2280.89 618.63 L2283.11 617.74 L2285.33 616.87 L2287.55 616.01 L2289.76 615.16 L2291.98 614.33 L2294.2 613.51 L2296.42 612.71 L2298.64 611.92 L2300.86 611.14 L2303.08 610.37 L2305.3 609.61 L2307.52 608.87 L2309.74 608.14 L2311.95 607.42 L2314.17 606.71 L2316.39 606.01 L2318.61 605.33 L2320.83 604.65 L2323.05 603.99 L2325.27 603.33 L2327.49 602.69 L2329.71 602.06 L2331.93 601.43 L2334.14 600.82 L2336.36 600.22 L2338.58 599.62 L2340.8 599.04 L2343.02 598.46 L2345.24 597.89 L2347.46 597.33 L2349.68 596.79 L2351.9 596.24 L2354.12 595.71 L2356.34 595.19 L2358.55 594.67 L2360.77 594.16 L2362.99 593.66 L2365.21 593.17 L2367.43 592.68 L2369.65 592.21 L2371.87 591.74 L2374.09 591.27 L2376.31 590.82 L2378.53 590.37 L2380.74 589.93 L2382.96 589.49 L2385.18 589.06 L2387.4 588.64 L2389.62 588.22 L2391.84 587.81 L2394.06 587.41 L2396.28 587.01 L2398.5 586.62 L2400.71 586.24 L2402.93 585.86 L2405.15 585.48 L2407.37 585.11 L2409.59 584.75 L2411.81 584.39 L2414.03 584.04 L2416.25 583.69 L2418.47 583.35 L2420.69 583.01 L2422.9 582.68 L2425.12 582.35 L2427.34 582.03 L2429.56 581.71 L2431.78 581.4 L2434 581.09 L2436.22 580.79 L2438.44 580.49 L2440.66 580.19 L2442.88 579.9 L2445.09 579.62 L2447.31 579.33 L2449.53 579.05 L2451.75 578.78 L2453.97 578.51 L2456.19 578.24 L2458.41 577.98 L2460.63 577.72 L2462.85 577.46 L2465.07 577.21 L2467.28 576.96 L2469.5 576.72 L2471.72 576.48 L2473.94 576.24 L2476.16 576 L2478.38 575.77 L2480.6 575.54 L2482.82 575.32 L2485.04 575.1 L2487.26 574.88 L2489.47 574.66 L2491.69 574.45 L2493.91 574.24 L2496.13 574.03 L2498.35 573.83 L2500.57 573.63 L2502.79 573.43 L2505.01 573.23 L2507.23 573.04 L2509.45 572.85 L2511.66 572.66 L2513.88 572.47 L2516.1 572.29 L2518.32 572.11 L2520.54 571.93 L2522.76 571.75 L2524.98 571.58 L2527.2 571.41 L2529.42 571.24 L2531.64 571.07 L2533.86 570.9 L2536.07 570.74 L2538.29 570.58 L2540.51 570.42 L2542.73 570.27 L2544.95 570.11 L2547.17 569.96 L2549.39 569.81 L2551.61 569.66 L2553.83 569.51 L2556.05 569.37 L2558.26 569.22 L2560.48 569.08 L2562.7 568.94 L2564.92 568.8 L2567.14 568.67 L2569.36 568.53 L2571.58 568.4 L2573.8 568.27 L2576.02 568.14 L2578.23 568.01 L2580.45 567.89 L2582.67 567.76 L2584.89 567.64 L2587.11 567.52 L2589.33 567.4 L2591.55 567.28 L2593.77 567.16 L2595.99 567.04 L2598.21 566.93 L2600.42 566.81 L2602.64 566.7 L2604.86 566.59 L2607.08 566.48 L2609.3 566.37 L2611.52 566.27 L2613.74 566.16 L2615.96 566.06 L2618.18 565.95 L2620.4 565.85 L2622.61 565.75 L2624.83 565.65 L2627.05 565.55 L2629.27 565.46 L2631.49 565.36 L2633.71 565.26 L2635.93 565.17 L2638.15 565.08 L2640.37 564.98 L2642.59 564.89 L2644.8 564.8 L2647.02 564.71 L2649.24 564.63 L2651.46 564.54 L2653.68 564.45 L2655.9 564.37 L2658.12 564.28 L2660.34 564.2 L2662.56 564.12 L2664.78 564.03 L2666.99 563.95 L2669.21 563.87 L2671.43 563.79 L2673.65 563.72 L2675.87 563.64 L2678.09 563.56 L2680.31 563.49 L2682.53 563.41 L2684.75 563.34 L2686.97 563.26 L2689.18 563.19 L2691.4 563.12 L2693.62 563.05 L2695.84 562.98 L2698.06 562.91 L2700.28 562.84 L2702.5 562.77 L2704.72 562.7 L2706.94 562.63 L2709.16 562.57 L2711.38 562.5 L2713.59 562.44 L2715.81 562.37 L2718.03 562.31 L2720.25 562.25 L2722.47 562.18 L2724.69 562.12 L2726.91 562.06 L2729.13 562 L2731.35 561.94 L2733.56 561.88 L2735.78 561.82 L2738 561.76 L2740.22 561.7 L2742.44 561.64 L2744.66 561.59 L2746.88 561.53 L2749.1 561.48 L2751.32 561.42 L2753.54 561.36 L2755.76 561.31 L2757.97 561.26 L2760.19 561.2 L2762.41 561.15 L2764.63 561.1 L2766.85 561.05 L2769.07 560.99 L2771.29 560.94 L2773.51 560.89 L2775.73 560.84 L2777.94 560.79 L2780.16 560.74 L2782.38 560.69 L2784.6 560.65 L2786.82 560.6 L2789.04 560.55 L2791.26 560.5 L2793.48 560.46 L2795.7 560.41 L2797.92 560.36 L2800.13 560.32 L2802.35 560.27 L2804.57 560.23 L2806.79 560.18 L2809.01 560.14 L2811.23 560.1 L2813.45 560.05 L2815.67 560.01 L2817.89 559.97 L2820.11 559.92 L2822.32 559.88 L2824.54 559.84 L2826.76 559.8 L2828.98 559.76 L2831.2 559.72 L2833.42 559.68 L2835.64 559.64 L2837.86 559.6 L2840.08 559.56 L2842.3 559.52 L2844.51 559.48 L2846.73 559.44 L2848.95 559.4 L2851.17 559.37 L2853.39 559.33 L2855.61 559.29 L2857.83 559.25 L2860.05 559.22 L2862.27 559.18 L2864.49 559.14 L2866.7 559.11 L2868.92 559.07 L2871.14 559.04 L2873.36 559 L2875.58 558.97 L2877.8 558.93 L2880.02 558.9 L2882.24 558.86 L2884.46 558.83 L2886.68 558.8 L2888.89 558.76 L2891.11 558.73 L2893.33 558.7 L2895.55 558.67 L2897.77 558.63 L2899.99 558.6 L2902.21 558.57 L2904.43 558.54 L2906.65 558.51 L2908.87 558.47 L2911.09 558.44 L2913.3 558.41 L2915.52 558.38 L2917.74 558.35 L2919.96 558.32 L2922.18 558.29 L2924.4 558.26 L2926.62 558.23 L2928.84 558.2 L2931.06 558.17 L2933.27 558.15 L2935.49 558.12 L2937.71 558.09 L2939.93 558.06 L2942.15 558.03 L2944.37 558 L2946.59 557.98 L2948.81 557.95 L2951.03 557.92 L2953.25 557.89 L2955.47 557.87 L2957.68 557.84 L2959.9 557.81 L2962.12 557.79 L2964.34 557.76 L2966.56 557.73 L2968.78 557.71 L2971 557.68 L2973.22 557.66 L2975.44 557.63 L2977.65 557.61 L2979.87 557.58 L2982.09 557.56 L2984.31 557.53 L2986.53 557.51 L2988.75 557.48 L2990.97 557.46 L2993.19 557.43 L2995.41 557.41 L2997.63 557.39 L2999.84 557.36 L3002.06 557.34 L3004.28 557.32 L3006.5 557.29 L3008.72 557.27 L3010.94 557.25 L3012.72 557.23" stroke="#eaa526" stroke-width="3" fill="none" stroke-linejoin="round"/>
<path d="M2212.1 654.85 L2214.32 648.49 L2216.54 642.43 L2218.76 636.66 L2220.98 631.13 L2223.19 625.83 L2225.41 620.75 L2227.63 615.85 L2229.85 611.14 L2232.07 606.59 L2234.29 602.18 L2236.51 597.92 L2238.73 593.78 L2240.95 589.77 L2243.17 585.86 L2245.38 582.06 L2247.6 578.35 L2249.82 574.73 L2252.04 571.2 L2254.26 567.74 L2256.48 564.37 L2258.7 561.06 L2260.92 557.81 L2263.14 554.63 L2265.36 551.52 L2267.57 548.45 L2269.79 545.45 L2272.01 542.49 L2274.23 539.59 L2276.45 536.74 L2278.67 533.93 L2280.89 531.17 L2283.11 528.45 L2285.33 525.77 L2287.55 523.13 L2289.76 520.54 L2291.98 517.98 L2294.2 515.46 L2296.42 512.98 L2298.64 510.53 L2300.86 508.11 L2303.08 505.73 L2305.3 503.39 L2307.52 501.08 L2309.74 498.79 L2311.95 496.54 L2314.17 494.32 L2316.39 492.14 L2318.61 489.98 L2320.83 487.85 L2323.05 485.74 L2325.27 483.67 L2327.49 481.62 L2329.71 479.6 L2331.93 477.61 L2334.14 475.65 L2336.36 473.71 L2338.58 471.79 L2340.8 469.9 L2343.02 468.04 L2345.24 466.2 L2347.46 464.38 L2349.68 462.59 L2351.9 460.82 L2354.12 459.07 L2356.34 457.35 L2358.55 455.65 L2360.77 453.97 L2362.99 452.31 L2365.21 450.68 L2367.43 449.06 L2369.65 447.47 L2371.87 445.9 L2374.09 444.34 L2376.31 442.81 L2378.53 441.3 L2380.74 439.81 L2382.96 438.33 L2385.18 436.88 L2387.4 435.44 L2389.62 434.03 L2391.84 432.63 L2394.06 431.25 L2396.28 429.88 L2398.5 428.54 L2400.71 427.21 L2402.93 425.9 L2405.15 424.61 L2407.37 423.33 L2409.59 422.07 L2411.81 420.83 L2414.03 419.6 L2416.25 418.39 L2418.47 417.19 L2420.69 416.01 L2422.9 414.84 L2425.12 413.69 L2427.34 412.55 L2429.56 411.43 L2431.78 410.33 L2434 409.23 L2436.22 408.15 L2438.44 407.09 L2440.66 406.04 L2442.88 405 L2445.09 403.98 L2447.31 402.97 L2449.53 401.97 L2451.75 400.98 L2453.97 400.01 L2456.19 399.05 L2458.41 398.11 L2460.63 397.17 L2462.85 396.25 L2465.07 395.34 L2467.28 394.44 L2469.5 393.55 L2471.72 392.67 L2473.94 391.81 L2476.16 390.96 L2478.38 390.11 L2480.6 389.28 L2482.82 388.46 L2485.04 387.65 L2487.26 386.85 L2489.47 386.06 L2491.69 385.28 L2493.91 384.51 L2496.13 383.75 L2498.35 383 L2500.57 382.26 L2502.79 381.53 L2505.01 380.81 L2507.23 380.1 L2509.45 379.4 L2511.66 378.7 L2513.88 378.02 L2516.1 377.34 L2518.32 376.67 L2520.54 376.02 L2522.76 375.37 L2524.98 374.72 L2527.2 374.09 L2529.42 373.47 L2531.64 372.85 L2533.86 372.24 L2536.07 371.64 L2538.29 371.05 L2540.51 370.46 L2542.73 369.88 L2544.95 369.31 L2547.17 368.75 L2549.39 368.19 L2551.61 367.64 L2553.83 367.1 L2556.05 366.57 L2558.26 366.04 L2560.48 365.52 L2562.7 365 L2564.92 364.49 L2567.14 363.99 L2569.36 363.5 L2571.58 363.01 L2573.8 362.53 L2576.02 362.05 L2578.23 361.58 L2580.45 361.12 L2582.67 360.66 L2584.89 360.21 L2587.11 359.76 L2589.33 359.32 L2591.55 358.89 L2593.77 358.46 L2595.99 358.04 L2598.21 357.62 L2600.42 357.21 L2602.64 356.8 L2604.86 356.4 L2607.08 356 L2609.3 355.61 L2611.52 355.22 L2613.74 354.84 L2615.96 354.46 L2618.18 354.09 L2620.4 353.72 L2622.61 353.36 L2624.83 353 L2627.05 352.65 L2629.27 352.3 L2631.49 351.96 L2633.71 351.62 L2635.93 351.28 L2638.15 350.95 L2640.37 350.63 L2642.59 350.31 L2644.8 349.99 L2647.02 349.67 L2649.24 349.36 L2651.46 349.06 L2653.68 348.75 L2655.9 348.46 L2658.12 348.16 L2660.34 347.87 L2662.56 347.59 L2664.78 347.3 L2666.99 347.02 L2669.21 346.75 L2671.43 346.47 L2673.65 346.21 L2675.87 345.94 L2678.09 345.68 L2680.31 345.42 L2682.53 345.17 L2684.75 344.91 L2686.97 344.66 L2689.18 344.42 L2691.4 344.18 L2693.62 343.94 L2695.84 343.7 L2698.06 343.47 L2700.28 343.24 L2702.5 343.01 L2704.72 342.79 L2706.94 342.57 L2709.16 342.35 L2711.38 342.13 L2713.59 341.92 L2715.81 341.71 L2718.03 341.5 L2720.25 341.3 L2722.47 341.1 L2724.69 340.9 L2726.91 340.7 L2729.13 340.51 L2731.35 340.31 L2733.56 340.13 L2735.78 339.94 L2738 339.75 L2740.22 339.57 L2742.44 339.39 L2744.66 339.22 L2746.88 339.04 L2749.1 338.87 L2751.32 338.7 L2753.54 338.53 L2755.76 338.36 L2757.97 338.2 L2760.19 338.04 L2762.41 337.88 L2764.63 337.72 L2766.85 337.56 L2769.07 337.41 L2771.29 337.26 L2773.51 337.11 L2775.73 336.96 L2777.94 336.81 L2780.16 336.67 L2782.38 336.53 L2784.6 336.39 L2786.82 336.25 L2789.04 336.11 L2791.26 335.98 L2793.48 335.84 L2795.7 335.71 L2797.92 335.58 L2800.13 335.45 L2802.35 335.33 L2804.57 335.2 L2806.79 335.08 L2809.01 334.96 L2811.23 334.84 L2813.45 334.72 L2815.67 334.6 L2817.89 334.49 L2820.11 334.37 L2822.32 334.26 L2824.54 334.15 L2826.76 334.04 L2828.98 333.93 L2831.2 333.82 L2833.42 333.72 L2835.64 333.61 L2837.86 333.51 L2840.08 333.41 L2842.3 333.31 L2844.51 333.21 L2846.73 333.11 L2848.95 333.02 L2851.17 332.92 L2853.39 332.83 L2855.61 332.73 L2857.83 332.64 L2860.05 332.55 L2862.27 332.46 L2864.49 332.38 L2866.7 332.29 L2868.92 332.2 L2871.14 332.12 L2873.36 332.04 L2875.58 331.95 L2877.8 331.87 L2880.02 331.79 L2882.24 331.71 L2884.46 331.63 L2886.68 331.56 L2888.89 331.48 L2891.11 331.41 L2893.33 331.33 L2895.55 331.26 L2897.77 331.19 L2899.99 331.11 L2902.21 331.04 L2904.43 330.97 L2906.65 330.9 L2908.87 330.84 L2911.09 330.77 L2913.3 330.7 L2915.52 330.64 L2917.74 330.57 L2919.96 330.51 L2922.18 330.45 L2924.4 330.39 L2926.62 330.32 L2928.84 330.26 L2931.06 330.2 L2933.27 330.15 L2935.49 330.09 L2937.71 330.03 L2939.93 329.97 L2942.15 329.92 L2944.37 329.86 L2946.59 329.81 L2948.81 329.76 L2951.03 329.7 L2953.25 329.65 L2955.47 329.6 L2957.68 329.55 L2959.9 329.5 L2962.12 329.45 L2964.34 329.4 L2966.56 329.35 L2968.78 329.3 L2971 329.25 L2973.22 329.21 L2975.44 329.16 L2977.65 329.12 L2979.87 329.07 L2982.09 329.03 L2984.31 328.98 L2986.53 328.94 L2988.75 328.9 L2990.97 328.86 L2993.19 328.82 L2995.41 328.77 L2997.63 328.73 L2999.84 328.69 L3002.06 328.66 L3004.28 328.62 L3006.5 328.58 L3008.72 328.54 L3010.94 328.5 L3012.72 328.47" stroke="#0404f8" stroke-width="3" fill="none" stroke-linejoin="round"/>
<path d="M2212.1 654.85 L2214.32 645.81 L2216.54 637.34 L2218.76 629.4 L2220.98 621.9 L2223.19 614.81 L2225.41 608.07 L2227.63 601.65 L2229.85 595.5 L2232.07 589.61 L2234.29 583.95 L2236.51 578.49 L2238.73 573.2 L2240.95 568.09 L2243.17 563.12 L2245.38 558.29 L2247.6 553.59 L2249.82 549 L2252.04 544.52 L2254.26 540.14 L2256.48 535.85 L2258.7 531.65 L2260.92 527.52 L2263.14 523.48 L2265.36 519.5 L2267.57 515.6 L2269.79 511.76 L2272.01 507.98 L2274.23 504.27 L2276.45 500.61 L2278.67 497 L2280.89 493.45 L2283.11 489.96 L2285.33 486.51 L2287.55 483.11 L2289.76 479.77 L2291.98 476.46 L2294.2 473.21 L2296.42 470 L2298.64 466.83 L2300.86 463.7 L2303.08 460.62 L2305.3 457.58 L2307.52 454.58 L2309.74 451.62 L2311.95 448.69 L2314.17 445.81 L2316.39 442.97 L2318.61 440.16 L2320.83 437.39 L2323.05 434.65 L2325.27 431.95 L2327.49 429.29 L2329.71 426.66 L2331.93 424.07 L2334.14 421.5 L2336.36 418.98 L2338.58 416.48 L2340.8 414.02 L2343.02 411.59 L2345.24 409.19 L2347.46 406.82 L2349.68 404.48 L2351.9 402.17 L2354.12 399.9 L2356.34 397.65 L2358.55 395.43 L2360.77 393.24 L2362.99 391.08 L2365.21 388.94 L2367.43 386.83 L2369.65 384.75 L2371.87 382.7 L2374.09 380.68 L2376.31 378.68 L2378.53 376.7 L2380.74 374.75 L2382.96 372.83 L2385.18 370.93 L2387.4 369.06 L2389.62 367.21 L2391.84 365.38 L2394.06 363.58 L2396.28 361.8 L2398.5 360.04 L2400.71 358.31 L2402.93 356.6 L2405.15 354.91 L2407.37 353.24 L2409.59 351.59 L2411.81 349.97 L2414.03 348.37 L2416.25 346.78 L2418.47 345.22 L2420.69 343.68 L2422.9 342.16 L2425.12 340.65 L2427.34 339.17 L2429.56 337.71 L2431.78 336.26 L2434 334.83 L2436.22 333.42 L2438.44 332.03 L2440.66 330.66 L2442.88 329.31 L2445.09 327.97 L2447.31 326.65 L2449.53 325.35 L2451.75 324.06 L2453.97 322.79 L2456.19 321.54 L2458.41 320.3 L2460.63 319.08 L2462.85 317.88 L2465.07 316.69 L2467.28 315.51 L2469.5 314.35 L2471.72 313.21 L2473.94 312.08 L2476.16 310.97 L2478.38 309.86 L2480.6 308.78 L2482.82 307.71 L2485.04 306.65 L2487.26 305.6 L2489.47 304.57 L2491.69 303.55 L2493.91 302.55 L2496.13 301.56 L2498.35 300.58 L2500.57 299.61 L2502.79 298.66 L2505.01 297.72 L2507.23 296.79 L2509.45 295.87 L2511.66 294.96 L2513.88 294.07 L2516.1 293.19 L2518.32 292.32 L2520.54 291.46 L2522.76 290.61 L2524.98 289.77 L2527.2 288.94 L2529.42 288.13 L2531.64 287.32 L2533.86 286.53 L2536.07 285.74 L2538.29 284.97 L2540.51 284.2 L2542.73 283.45 L2544.95 282.7 L2547.17 281.96 L2549.39 281.24 L2551.61 280.52 L2553.83 279.81 L2556.05 279.12 L2558.26 278.43 L2560.48 277.75 L2562.7 277.07 L2564.92 276.41 L2567.14 275.76 L2569.36 275.11 L2571.58 274.47 L2573.8 273.84 L2576.02 273.22 L2578.23 272.61 L2580.45 272 L2582.67 271.4 L2584.89 270.81 L2587.11 270.23 L2589.33 269.66 L2591.55 269.09 L2593.77 268.53 L2595.99 267.98 L2598.21 267.43 L2600.42 266.89 L2602.64 266.36 L2604.86 265.84 L2607.08 265.32 L2609.3 264.81 L2611.52 264.3 L2613.74 263.8 L2615.96 263.31 L2618.18 262.83 L2620.4 262.35 L2622.61 261.87 L2624.83 261.41 L2627.05 260.95 L2629.27 260.49 L2631.49 260.04 L2633.71 259.6 L2635.93 259.16 L2638.15 258.73 L2640.37 258.3 L2642.59 257.88 L2644.8 257.47 L2647.02 257.06 L2649.24 256.65 L2651.46 256.25 L2653.68 255.86 L2655.9 255.47 L2658.12 255.08 L2660.34 254.7 L2662.56 254.33 L2664.78 253.96 L2666.99 253.59 L2669.21 253.23 L2671.43 252.88 L2673.65 252.53 L2675.87 252.18 L2678.09 251.84 L2680.31 251.5 L2682.53 251.17 L2684.75 250.84 L2686.97 250.52 L2689.18 250.2 L2691.4 249.88 L2693.62 249.57 L2695.84 249.26 L2698.06 248.95 L2700.28 248.65 L2702.5 248.36 L2704.72 248.07 L2706.94 247.78 L2709.16 247.49 L2711.38 247.21 L2713.59 246.93 L2715.81 246.66 L2718.03 246.39 L2720.25 246.12 L2722.47 245.86 L2724.69 245.6 L2726.91 245.34 L2729.13 245.09 L2731.35 244.83 L2733.56 244.59 L2735.78 244.34 L2738 244.1 L2740.22 243.87 L2742.44 243.63 L2744.66 243.4 L2746.88 243.17 L2749.1 242.94 L2751.32 242.72 L2753.54 242.5 L2755.76 242.29 L2757.97 242.07 L2760.19 241.86 L2762.41 241.65 L2764.63 241.44 L2766.85 241.24 L2769.07 241.04 L2771.29 240.84 L2773.51 240.65 L2775.73 240.45 L2777.94 240.26 L2780.16 240.07 L2782.38 239.89 L2784.6 239.71 L2786.82 239.52 L2789.04 239.35 L2791.26 239.17 L2793.48 239 L2795.7 238.82 L2797.92 238.65 L2800.13 238.49 L2802.35 238.32 L2804.57 238.16 L2806.79 238 L2809.01 237.84 L2811.23 237.68 L2813.45 237.53 L2815.67 237.37 L2817.89 237.22 L2820.11 237.07 L2822.32 236.93 L2824.54 236.78 L2826.76 236.64 L2828.98 236.5 L2831.2 236.36 L2833.42 236.22 L2835.64 236.08 L2837.86 235.95 L2840.08 235.82 L2842.3 235.69 L2844.51 235.56 L2846.73 235.43 L2848.95 235.3 L2851.17 235.18 L2853.39 235.06 L2855.61 234.94 L2857.83 234.82 L2860.05 234.7 L2862.27 234.58 L2864.49 234.47 L2866.7 234.36 L2868.92 234.24 L2871.14 234.13 L2873.36 234.02 L2875.58 233.92 L2877.8 233.81 L2880.02 233.7 L2882.24 233.6 L2884.46 233.5 L2886.68 233.4 L2888.89 233.3 L2891.11 233.2 L2893.33 233.1 L2895.55 233.01 L2897.77 232.91 L2899.99 232.82 L2902.21 232.73 L2904.43 232.64 L2906.65 232.55 L2908.87 232.46 L2911.09 232.37 L2913.3 232.28 L2915.52 232.2 L2917.74 232.12 L2919.96 232.03 L2922.18 231.95 L2924.4 231.87 L2926.62 231.79 L2928.84 231.71 L2931.06 231.63 L2933.27 231.56 L2935.49 231.48 L2937.71 231.41 L2939.93 231.33 L2942.15 231.26 L2944.37 231.19 L2946.59 231.12 L2948.81 231.05 L2951.03 230.98 L2953.25 230.91 L2955.47 230.84 L2957.68 230.77 L2959.9 230.71 L2962.12 230.64 L2964.34 230.58 L2966.56 230.52 L2968.78 230.45 L2971 230.39 L2973.22 230.33 L2975.44 230.27 L2977.65 230.21 L2979.87 230.15 L2982.09 230.1 L2984.31 230.04 L2986.53 229.98 L2988.75 229.93 L2990.97 229.87 L2993.19 229.82 L2995.41 229.77 L2997.63 229.71 L2999.84 229.66 L3002.06 229.61 L3004.28 229.56 L3006.5 229.51 L3008.72 229.46 L3010.94 229.41 L3012.72 229.37" stroke="#ff00ff" stroke-width="3" fill="none" stroke-linejoin="round"/>
<path d="M2212.1 654.85 L2214.32 644.66 L2216.54 634.83 L2218.76 625.35 L2220.98 616.17 L2223.19 607.29 L2225.41 598.69 L2227.63 590.35 L2229.85 582.25 L2232.07 574.38 L2234.29 566.72 L2236.51 559.27 L2238.73 552.01 L2240.95 544.93 L2243.17 538.02 L2245.38 531.27 L2247.6 524.68 L2249.82 518.24 L2252.04 511.93 L2254.26 505.76 L2256.48 499.72 L2258.7 493.8 L2260.92 487.99 L2263.14 482.3 L2265.36 476.71 L2267.57 471.23 L2269.79 465.85 L2272.01 460.57 L2274.23 455.37 L2276.45 450.27 L2278.67 445.26 L2280.89 440.33 L2283.11 435.48 L2285.33 430.71 L2287.55 426.01 L2289.76 421.4 L2291.98 416.85 L2294.2 412.38 L2296.42 407.97 L2298.64 403.64 L2300.86 399.36 L2303.08 395.16 L2305.3 391.02 L2307.52 386.93 L2309.74 382.91 L2311.95 378.95 L2314.17 375.05 L2316.39 371.2 L2318.61 367.41 L2320.83 363.67 L2323.05 359.99 L2325.27 356.36 L2327.49 352.78 L2329.71 349.26 L2331.93 345.78 L2334.14 342.35 L2336.36 338.97 L2338.58 335.64 L2340.8 332.35 L2343.02 329.11 L2345.24 325.92 L2347.46 322.77 L2349.68 319.66 L2351.9 316.6 L2354.12 313.58 L2356.34 310.6 L2358.55 307.66 L2360.77 304.77 L2362.99 301.91 L2365.21 299.09 L2367.43 296.31 L2369.65 293.57 L2371.87 290.87 L2374.09 288.2 L2376.31 285.57 L2378.53 282.98 L2380.74 280.42 L2382.96 277.9 L2385.18 275.41 L2387.4 272.96 L2389.62 270.54 L2391.84 268.15 L2394.06 265.8 L2396.28 263.47 L2398.5 261.18 L2400.71 258.92 L2402.93 256.7 L2405.15 254.5 L2407.37 252.33 L2409.59 250.19 L2411.81 248.08 L2414.03 246 L2416.25 243.95 L2418.47 241.92 L2420.69 239.93 L2422.9 237.96 L2425.12 236.02 L2427.34 234.1 L2429.56 232.21 L2431.78 230.34 L2434 228.51 L2436.22 226.69 L2438.44 224.9 L2440.66 223.14 L2442.88 221.4 L2445.09 219.68 L2447.31 217.99 L2449.53 216.32 L2451.75 214.67 L2453.97 213.04 L2456.19 211.44 L2458.41 209.86 L2460.63 208.3 L2462.85 206.76 L2465.07 205.24 L2467.28 203.74 L2469.5 202.27 L2471.72 200.81 L2473.94 199.37 L2476.16 197.96 L2478.38 196.56 L2480.6 195.18 L2482.82 193.82 L2485.04 192.48 L2487.26 191.15 L2489.47 189.85 L2491.69 188.56 L2493.91 187.29 L2496.13 186.04 L2498.35 184.8 L2500.57 183.58 L2502.79 182.38 L2505.01 181.19 L2507.23 180.02 L2509.45 178.87 L2511.66 177.73 L2513.88 176.61 L2516.1 175.5 L2518.32 174.41 L2520.54 173.33 L2522.76 172.27 L2524.98 171.22 L2527.2 170.19 L2529.42 169.16 L2531.64 168.16 L2533.86 167.17 L2536.07 166.19 L2538.29 165.22 L2540.51 164.27 L2542.73 163.33 L2544.95 162.4 L2547.17 161.49 L2549.39 160.59 L2551.61 159.7 L2553.83 158.82 L2556.05 157.95 L2558.26 157.1 L2560.48 156.26 L2562.7 155.43 L2564.92 154.61 L2567.14 153.8 L2569.36 153 L2571.58 152.22 L2573.8 151.44 L2576.02 150.67 L2578.23 149.92 L2580.45 149.18 L2582.67 148.44 L2584.89 147.72 L2587.11 147 L2589.33 146.3 L2591.55 145.6 L2593.77 144.92 L2595.99 144.24 L2598.21 143.57 L2600.42 142.92 L2602.64 142.27 L2604.86 141.63 L2607.08 140.99 L2609.3 140.37 L2611.52 139.76 L2613.74 139.15 L2615.96 138.55 L2618.18 137.96 L2620.4 137.38 L2622.61 136.81 L2624.83 136.24 L2627.05 135.68 L2629.27 135.13 L2631.49 134.59 L2633.71 134.05 L2635.93 133.52 L2638.15 133 L2640.37 132.49 L2642.59 131.98 L2644.8 131.48 L2647.02 130.99 L2649.24 130.5 L2651.46 130.02 L2653.68 129.55 L2655.9 129.08 L2658.12 128.62 L2660.34 128.16 L2662.56 127.72 L2664.78 127.27 L2666.99 126.84 L2669.21 126.41 L2671.43 125.98 L2673.65 125.56 L2675.87 125.15 L2678.09 124.74 L2680.31 124.34 L2682.53 123.94 L2684.75 123.55 L2686.97 123.17 L2689.18 122.79 L2691.4 122.41 L2693.62 122.04 L2695.84 121.68 L2698.06 121.32 L2700.28 120.96 L2702.5 120.61 L2704.72 120.26 L2706.94 119.92 L2709.16 119.59 L2711.38 119.26 L2713.59 118.93 L2715.81 118.61 L2718.03 118.29 L2720.25 117.97 L2722.47 117.66 L2724.69 117.36 L2726.91 117.06 L2729.13 116.76 L2731.35 116.47 L2733.56 116.18 L2735.78 115.89 L2738 115.61 L2740.22 115.33 L2742.44 115.06 L2744.66 114.79 L2746.88 114.52 L2749.1 114.26 L2751.32 114 L2753.54 113.74 L2755.76 113.49 L2757.97 113.24 L2760.19 113 L2762.41 112.76 L2764.63 112.52 L2766.85 112.28 L2769.07 112.05 L2771.29 111.82 L2773.51 111.59 L2775.73 111.37 L2777.94 111.15 L2780.16 110.93 L2782.38 110.72 L2784.6 110.51 L2786.82 110.3 L2789.04 110.09 L2791.26 109.89 L2793.48 109.69 L2795.7 109.49 L2797.92 109.3 L2800.13 109.11 L2802.35 108.92 L2804.57 108.73 L2806.79 108.55 L2809.01 108.37 L2811.23 108.19 L2813.45 108.01 L2815.67 107.84 L2817.89 107.67 L2820.11 107.5 L2822.32 107.33 L2824.54 107.16 L2826.76 107 L2828.98 106.84 L2831.2 106.68 L2833.42 106.53 L2835.64 106.37 L2837.86 106.22 L2840.08 106.07 L2842.3 105.92 L2844.51 105.78 L2846.73 105.63 L2848.95 105.49 L2851.17 105.35 L2853.39 105.21 L2855.61 105.08 L2857.83 104.94 L2860.05 104.81 L2862.27 104.68 L2864.49 104.55 L2866.7 104.42 L2868.92 104.3 L2871.14 104.17 L2873.36 104.05 L2875.58 103.93 L2877.8 103.81 L2880.02 103.7 L2882.24 103.58 L2884.46 103.47 L2886.68 103.35 L2888.89 103.24 L2891.11 103.13 L2893.33 103.03 L2895.55 102.92 L2897.77 102.81 L2899.99 102.71 L2902.21 102.61 L2904.43 102.51 L2906.65 102.41 L2908.87 102.31 L2911.09 102.21 L2913.3 102.12 L2915.52 102.02 L2917.74 101.93 L2919.96 101.84 L2922.18 101.75 L2924.4 101.66 L2926.62 101.57 L2928.84 101.49 L2931.06 101.4 L2933.27 101.32 L2935.49 101.23 L2937.71 101.15 L2939.93 101.07 L2942.15 100.99 L2944.37 100.91 L2946.59 100.83 L2948.81 100.76 L2951.03 100.68 L2953.25 100.61 L2955.47 100.53 L2957.68 100.46 L2959.9 100.39 L2962.12 100.32 L2964.34 100.25 L2966.56 100.18 L2968.78 100.11 L2971 100.05 L2973.22 99.98 L2975.44 99.91 L2977.65 99.85 L2979.87 99.79 L2982.09 99.73 L2984.31 99.66 L2986.53 99.6 L2988.75 99.54 L2990.97 99.48 L2993.19 99.43 L2995.41 99.37 L2997.63 99.31 L2999.84 99.26 L3002.06 99.2 L3004.28 99.15 L3006.5 99.09 L3008.72 99.04 L3010.94 98.99 L3012.72 98.95" stroke="#00ffff" stroke-width="3" fill="none" stroke-linejoin="round"/>
<path d="M2235.2 66.5H2314.9" stroke="#eaa526" stroke-width="3.3"/>
<text x="2321" y="77.9" font-family="Liberation Serif" font-size="35.5">0.5V</text>
<path d="M2235.2 109.4H2314.9" stroke="#0404f8" stroke-width="3.3"/>
<text x="2321" y="120.8" font-family="Liberation Serif" font-size="35.5">1.0V</text>
<path d="M2235.2 153.2H2314.9" stroke="#ff00ff" stroke-width="3.3"/>
<text x="2321" y="164.6" font-family="Liberation Serif" font-size="35.5">1.2V</text>
<path d="M2235.2 197H2314.9" stroke="#00ffff" stroke-width="3.3"/>
<text x="2321" y="208.4" font-family="Liberation Serif" font-size="35.5">1.5V</text>
<rect x="2188.5" y="845.5" width="869.1" height="699.3" fill="none" stroke="#000" stroke-width="3.3"/>
<path d="M2188.5 1545h-13.8M2188.5 1470.15h-6.9M2188.5 1395.3h-13.8M2188.5 1320.45h-6.9M2188.5 1245.6h-13.8M2188.5 1170.75h-6.9M2188.5 1095.9h-13.8M2188.5 1021.05h-6.9M2188.5 946.2h-13.8M2188.5 871.35h-6.9" stroke="#000" stroke-width="3.4" fill="none"/>
<text x="2167" y="1556.5" font-family="Liberation Serif" font-size="40" text-anchor="end">0</text>
<text x="2167" y="1406.8" font-family="Liberation Serif" font-size="40" text-anchor="end">3</text>
<text x="2167" y="1257.1" font-family="Liberation Serif" font-size="40" text-anchor="end">6</text>
<text x="2167" y="1107.4" font-family="Liberation Serif" font-size="40" text-anchor="end">9</text>
<text x="2167" y="957.7" font-family="Liberation Serif" font-size="40" text-anchor="end">12</text>
<rect x="2260.15" y="1084.67" width="75.5" height="460.33" fill="url(#bar)" stroke="#1a1a1a" stroke-width="1.7"/>
<text x="2294.75" y="1588.4" font-family="Liberation Serif" font-size="36.5" text-anchor="middle">0.5</text>
<rect x="2477.45" y="1150.04" width="75.5" height="394.96" fill="url(#bar)" stroke="#1a1a1a" stroke-width="1.7"/>
<text x="2512.05" y="1588.4" font-family="Liberation Serif" font-size="36.5" text-anchor="middle">1.0</text>
<rect x="2694.65" y="1061.72" width="75.5" height="483.28" fill="url(#bar)" stroke="#1a1a1a" stroke-width="1.7"/>
<text x="2729.25" y="1588.4" font-family="Liberation Serif" font-size="36.5" text-anchor="middle">1.2</text>
<rect x="2911.95" y="1050.24" width="75.5" height="494.76" fill="url(#bar)" stroke="#1a1a1a" stroke-width="1.7"/>
<text x="2946.55" y="1588.4" font-family="Liberation Serif" font-size="36.5" text-anchor="middle">1.5</text>
<path d="M2186.9 1544.8H3059.2" stroke="#000" stroke-width="3.3"/>
<path d="M2198.2 1048h7.4M2226.5 1048h7.4M2254.8 1048h7.4M2283.1 1048h7.4M2311.4 1048h7.4M2339.7 1048h7.4M2368 1048h7.4M2396.3 1048h7.4M2424.6 1048h7.4M2452.9 1048h7.4M2481.2 1048h7.4M2509.5 1048h7.4M2537.8 1048h7.4M2566.1 1048h7.4M2594.4 1048h7.4M2622.7 1048h7.4M2651 1048h7.4M2679.3 1048h7.4M2707.6 1048h7.4M2735.9 1048h7.4M2764.2 1048h7.4M2792.5 1048h7.4M2820.8 1048h7.4M2849.1 1048h7.4M2877.4 1048h7.4M2905.7 1048h7.4M2934 1048h7.4M2962.3 1048h7.4M2990.6 1048h7.4M3018.9 1048h7.4M3047.2 1048h7.4" stroke="#ff0000" stroke-width="5.2" fill="none"/>
<text x="2911.5" y="1034.2" font-family="Liberation Serif" font-size="37.5" textLength="92" lengthAdjust="spacingAndGlyphs">9. 94%</text>
<text x="2619.2" y="1638" font-family="Liberation Serif" font-size="47" text-anchor="middle">Voltage (V)</text>
<text transform="translate(2109.6 1196.4) rotate(-90)" font-family="Liberation Serif" font-size="47" text-anchor="middle">Error (%)</text>
</svg></body></html>
